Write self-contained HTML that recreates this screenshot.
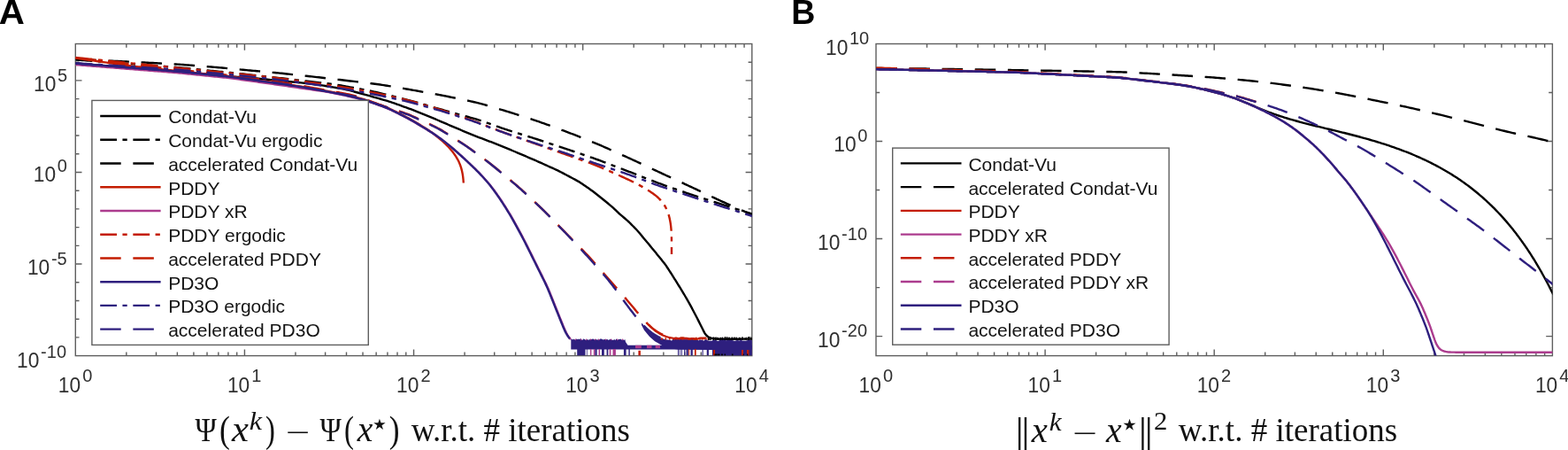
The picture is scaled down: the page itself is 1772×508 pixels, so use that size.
<!DOCTYPE html>
<html><head><meta charset="utf-8"><style>
html,body{margin:0;padding:0;background:#fff;overflow:hidden}
svg{display:block}
.tk{font-family:"Liberation Sans",Arial,sans-serif;font-size:24.5px;fill:#303030}
.sup{font-size:20px}
.lg{font-family:"Liberation Sans",Arial,sans-serif;font-size:21px;fill:#141414}
.pl{font-family:"Liberation Sans",Arial,sans-serif;font-size:38px;font-weight:bold;fill:#000}
.ttl{font-family:"Liberation Serif","Times New Roman",serif;font-size:35px;fill:#000}
</style></head><body>
<svg width="1772" height="508" viewBox="0 0 1772 508">
<rect width="1772" height="508" fill="#fff"/>
<clipPath id="cl"><rect x="85.3" y="49.5" width="764.5" height="352.1"/></clipPath>
<clipPath id="cr"><rect x="990.0" y="49.5" width="764.4000000000001" height="352.1"/></clipPath>
<path d="M142.83,401.6v-4.2M142.83,49.5v4.2M176.49,401.6v-4.2M176.49,49.5v4.2M200.37,401.6v-4.2M200.37,49.5v4.2M218.89,401.6v-4.2M218.89,49.5v4.2M234.02,401.6v-4.2M234.02,49.5v4.2M246.82,401.6v-4.2M246.82,49.5v4.2M257.9,401.6v-4.2M257.9,49.5v4.2M267.68,401.6v-4.2M267.68,49.5v4.2M276.43,401.6v-7.2M276.43,49.5v7.2M333.96,401.6v-4.2M333.96,49.5v4.2M367.61,401.6v-4.2M367.61,49.5v4.2M391.49,401.6v-4.2M391.49,49.5v4.2M410.02,401.6v-4.2M410.02,49.5v4.2M425.15,401.6v-4.2M425.15,49.5v4.2M437.94,401.6v-4.2M437.94,49.5v4.2M449.03,401.6v-4.2M449.03,49.5v4.2M458.8,401.6v-4.2M458.8,49.5v4.2M467.55,401.6v-7.2M467.55,49.5v7.2M525.08,401.6v-4.2M525.08,49.5v4.2M558.74,401.6v-4.2M558.74,49.5v4.2M582.62,401.6v-4.2M582.62,49.5v4.2M601.14,401.6v-4.2M601.14,49.5v4.2M616.27,401.6v-4.2M616.27,49.5v4.2M629.07,401.6v-4.2M629.07,49.5v4.2M640.15,401.6v-4.2M640.15,49.5v4.2M649.93,401.6v-4.2M649.93,49.5v4.2M658.67,401.6v-7.2M658.67,49.5v7.2M716.21,401.6v-4.2M716.21,49.5v4.2M749.86,401.6v-4.2M749.86,49.5v4.2M773.74,401.6v-4.2M773.74,49.5v4.2M792.27,401.6v-4.2M792.27,49.5v4.2M807.4,401.6v-4.2M807.4,49.5v4.2M820.19,401.6v-4.2M820.19,49.5v4.2M831.28,401.6v-4.2M831.28,49.5v4.2M841.05,401.6v-4.2M841.05,49.5v4.2M85.3,380.89h4.2M849.8,380.89h-4.2M85.3,360.18h4.2M849.8,360.18h-4.2M85.3,339.46h4.2M849.8,339.46h-4.2M85.3,318.75h4.2M849.8,318.75h-4.2M85.3,298.04h7.2M849.8,298.04h-7.2M85.3,277.33h4.2M849.8,277.33h-4.2M85.3,256.62h4.2M849.8,256.62h-4.2M85.3,235.91h4.2M849.8,235.91h-4.2M85.3,215.19h4.2M849.8,215.19h-4.2M85.3,194.48h7.2M849.8,194.48h-7.2M85.3,173.77h4.2M849.8,173.77h-4.2M85.3,153.06h4.2M849.8,153.06h-4.2M85.3,132.35h4.2M849.8,132.35h-4.2M85.3,111.64h4.2M849.8,111.64h-4.2M85.3,90.92h7.2M849.8,90.92h-7.2M85.3,70.21h4.2M849.8,70.21h-4.2" stroke="#5e5e5e" stroke-width="1.4" fill="none"/>
<rect x="85.3" y="49.5" width="764.5" height="352.1" fill="none" stroke="#5e5e5e" stroke-width="1.4"/>
<g clip-path="url(#cl)">
<path d="M85,71.5 L86.99,71.66 L88.99,71.81 L90.98,71.97 L92.98,72.12 L94.97,72.28 L96.96,72.44 L98.96,72.59 L100.95,72.75 L102.95,72.9 L104.94,73.06 L106.93,73.22 L108.93,73.37 L110.92,73.53 L112.91,73.68 L114.91,73.84 L116.9,74 L118.9,74.15 L120.89,74.31 L122.88,74.46 L124.88,74.62 L126.87,74.78 L128.87,74.93 L130.86,75.09 L132.85,75.25 L134.85,75.4 L136.84,75.56 L138.84,75.71 L140.83,75.87 L142.82,76.03 L144.82,76.18 L146.81,76.34 L148.8,76.49 L150.8,76.65 L152.79,76.81 L154.79,76.96 L156.78,77.12 L158.77,77.27 L160.77,77.43 L162.76,77.59 L164.76,77.74 L166.75,77.9 L168.74,78.05 L170.74,78.21 L172.73,78.37 L174.73,78.52 L176.72,78.68 L178.71,78.83 L180.71,78.99 L182.7,79.15 L184.7,79.3 L186.69,79.46 L188.68,79.61 L190.68,79.77 L192.67,79.93 L194.66,80.08 L196.66,80.24 L198.65,80.4 L200.64,80.58 L202.64,80.76 L204.63,80.95 L206.62,81.14 L208.61,81.33 L210.6,81.52 L212.59,81.72 L214.58,81.91 L216.57,82.1 L218.56,82.29 L220.55,82.49 L222.54,82.68 L224.53,82.87 L226.52,83.06 L228.52,83.25 L230.51,83.45 L232.5,83.64 L234.49,83.83 L236.48,84.02 L238.47,84.22 L240.46,84.41 L242.45,84.6 L244.44,84.79 L246.43,84.99 L248.42,85.18 L250.41,85.37 L252.4,85.56 L254.4,85.75 L256.39,85.94 L258.38,86.12 L260.37,86.29 L262.36,86.45 L264.36,86.6 L266.35,86.75 L268.35,86.89 L270.34,87.04 L272.34,87.19 L274.33,87.34 L276.33,87.49 L278.32,87.63 L280.32,87.78 L282.31,87.93 L284.3,88.08 L286.3,88.23 L288.29,88.38 L290.29,88.55 L292.28,88.73 L294.27,88.93 L296.26,89.13 L298.25,89.32 L300.24,89.52 L302.23,89.72 L304.22,89.92 L306.21,90.12 L308.2,90.32 L310.19,90.52 L312.18,90.72 L314.17,90.92 L316.16,91.12 L318.15,91.31 L320.14,91.51 L322.13,91.7 L324.12,91.88 L326.11,92.07 L328.1,92.26 L330.1,92.44 L332.09,92.63 L334.08,92.81 L336.07,93 L338.06,93.18 L340.05,93.37 L342.04,93.57 L344.03,93.79 L346.01,94.03 L348,94.28 L349.98,94.54 L351.96,94.8 L353.95,95.06 L355.93,95.32 L357.91,95.58 L359.9,95.84 L361.88,96.1 L363.86,96.37 L365.84,96.64 L367.82,96.94 L369.79,97.27 L371.76,97.61 L373.73,97.96 L375.7,98.31 L377.67,98.66 L379.64,99 L381.61,99.35 L383.58,99.7 L385.55,100.05 L387.52,100.41 L389.48,100.79 L391.43,101.21 L393.37,101.68 L395.31,102.18 L397.24,102.69 L399.17,103.21 L401.11,103.72 L403.04,104.24 L404.97,104.76 L406.9,105.27 L408.84,105.79 L410.77,106.31 L412.7,106.83 L414.63,107.35 L416.55,107.89 L418.48,108.44 L420.4,108.99 L422.32,109.54 L424.25,110.09 L426.17,110.64 L428.09,111.19 L430.01,111.74 L431.94,112.29 L433.86,112.84 L435.78,113.4 L437.7,113.96 L439.61,114.54 L441.51,115.16 L443.4,115.82 L445.29,116.48 L447.17,117.15 L449.06,117.82 L450.94,118.49 L452.83,119.17 L454.71,119.84 L456.59,120.51 L458.48,121.18 L460.36,121.85 L462.24,122.53 L464.11,123.23 L465.98,123.96 L467.84,124.69 L469.7,125.43 L471.56,126.17 L473.41,126.91 L475.27,127.65 L477.13,128.39 L478.99,129.13 L480.85,129.87 L482.7,130.61 L484.56,131.35 L486.41,132.11 L488.26,132.87 L490.1,133.65 L491.94,134.44 L493.78,135.23 L495.61,136.02 L497.45,136.81 L499.29,137.6 L501.13,138.39 L502.96,139.18 L504.8,139.97 L506.64,140.76 L508.47,141.55 L510.31,142.34 L512.15,143.12 L514,143.9 L515.84,144.67 L517.69,145.45 L519.53,146.22 L521.37,146.99 L523.22,147.77 L525.06,148.54 L526.91,149.31 L528.75,150.09 L530.6,150.86 L532.44,151.63 L534.3,152.38 L536.16,153.12 L538.02,153.84 L539.89,154.55 L541.76,155.26 L543.63,155.97 L545.5,156.68 L547.37,157.39 L549.24,158.11 L551.11,158.82 L552.97,159.53 L554.84,160.24 L556.71,160.95 L558.58,161.67 L560.44,162.4 L562.29,163.15 L564.15,163.91 L566,164.66 L567.85,165.43 L569.7,166.19 L571.55,166.95 L573.4,167.71 L575.25,168.47 L577.1,169.23 L578.95,169.99 L580.79,170.75 L582.64,171.51 L584.49,172.29 L586.33,173.07 L588.17,173.85 L590.01,174.64 L591.84,175.43 L593.68,176.22 L595.52,177 L597.36,177.79 L599.2,178.58 L601.04,179.36 L602.88,180.15 L604.71,180.94 L606.55,181.74 L608.38,182.54 L610.2,183.36 L612.03,184.18 L613.85,185 L615.67,185.83 L617.5,186.65 L619.32,187.47 L621.14,188.29 L622.97,189.12 L624.79,189.94 L626.61,190.77 L628.43,191.6 L630.24,192.45 L632.03,193.33 L633.81,194.25 L635.58,195.18 L637.35,196.11 L639.11,197.05 L640.88,197.99 L642.65,198.92 L644.42,199.86 L646.18,200.79 L647.95,201.73 L649.72,202.67 L651.48,203.61 L653.22,204.58 L654.94,205.61 L656.62,206.69 L658.27,207.81 L659.92,208.94 L661.57,210.08 L663.21,211.21 L664.86,212.35 L666.5,213.49 L668.13,214.65 L669.74,215.84 L671.33,217.05 L672.91,218.28 L674.49,219.51 L676.06,220.74 L677.64,221.97 L679.21,223.2 L680.77,224.45 L682.32,225.72 L683.87,226.98 L685.42,228.25 L686.96,229.52 L688.5,230.8 L690.04,232.08 L691.55,233.38 L693.03,234.73 L694.49,236.1 L695.93,237.48 L697.38,238.86 L698.83,240.24 L700.31,241.58 L701.81,242.9 L703.34,244.19 L704.87,245.48 L706.4,246.77 L707.92,248.06 L709.42,249.39 L710.88,250.75 L712.31,252.15 L713.72,253.56 L715.13,254.98 L716.53,256.41 L717.93,257.84 L719.3,259.29 L720.64,260.77 L721.94,262.29 L723.24,263.82 L724.52,265.35 L725.81,266.88 L727.09,268.41 L728.38,269.94 L729.66,271.48 L730.94,273.02 L732.22,274.55 L733.5,276.09 L734.77,277.63 L736.05,279.17 L737.33,280.71 L738.6,282.25 L739.87,283.8 L741.14,285.35 L742.4,286.9 L743.66,288.45 L744.91,290.01 L746.17,291.56 L747.43,293.11 L748.69,294.67 L749.94,296.23 L751.17,297.8 L752.36,299.41 L753.5,301.05 L754.6,302.72 L755.68,304.4 L756.77,306.08 L757.85,307.76 L758.93,309.44 L760.01,311.13 L761.09,312.81 L762.15,314.51 L763.21,316.2 L764.27,317.9 L765.32,319.6 L766.38,321.3 L767.43,323 L768.49,324.7 L769.54,326.4 L770.59,328.1 L771.64,329.8 L772.67,331.52 L773.68,333.24 L774.68,334.98 L775.67,336.71 L776.66,338.45 L777.66,340.18 L778.65,341.92 L779.63,343.66 L780.61,345.41 L781.56,347.17 L782.49,348.94 L783.42,350.71 L784.34,352.48 L785.27,354.25 L786.19,356.03 L787.12,357.8 L788.04,359.57 L788.96,361.35 L789.86,363.14 L790.76,364.92 L791.66,366.71 L792.55,368.5 L793.44,370.29 L794.33,372.08 L795.23,373.87 L796.16,375.63 L797.2,377.3 L798.44,378.79 L799.91,380.02 L801.6,380.94 L803.44,381.6 L805.37,382.05 L807.34,382.33 L809.32,382.51 L811.32,382.63 L813.31,382.72 L815.31,382.76 L817.31,382.78 L819.31,382.77 L821.31,382.76 L823.31,382.75 L825.31,382.74 L827.31,382.73 L829.31,382.72 L831.31,382.71 L833.31,382.7 L835.31,382.69 L837.31,382.68 L839.31,382.67 L841.31,382.66 L843.31,382.65 L845.31,382.64 L847.29,382.62 L849.22,382.61 L851.01,382.61 L851.83,382.6" fill="none" stroke="#000000" stroke-width="2.4" stroke-linejoin="round"/>
<path d="M85,67.4 L86.99,67.55 L88.99,67.7 L90.98,67.85 L92.98,68 L94.97,68.15 L96.97,68.29 L98.96,68.44 L100.96,68.59 L102.95,68.74 L104.94,68.89 L106.94,69.04 L108.93,69.19 L110.93,69.34 L112.92,69.49 L114.92,69.64 L116.91,69.79 L118.91,69.94 L120.9,70.08 L122.89,70.23 L124.89,70.38 L126.88,70.53 L128.88,70.68 L130.87,70.83 L132.87,70.98 L134.86,71.13 L136.86,71.28 L138.85,71.43 L140.84,71.58 L142.84,71.73 L144.83,71.87 L146.83,72.02 L148.82,72.17 L150.82,72.32 L152.81,72.47 L154.81,72.62 L156.8,72.77 L158.79,72.92 L160.79,73.07 L162.78,73.22 L164.78,73.37 L166.77,73.52 L168.77,73.66 L170.76,73.81 L172.75,73.96 L174.75,74.11 L176.74,74.26 L178.74,74.41 L180.73,74.56 L182.73,74.71 L184.72,74.86 L186.72,75.01 L188.71,75.16 L190.7,75.31 L192.7,75.46 L194.69,75.62 L196.69,75.78 L198.68,75.95 L200.67,76.12 L202.66,76.3 L204.65,76.48 L206.64,76.67 L208.64,76.87 L210.63,77.06 L212.62,77.26 L214.61,77.46 L216.6,77.66 L218.59,77.86 L220.58,78.06 L222.57,78.26 L224.56,78.46 L226.55,78.65 L228.54,78.85 L230.53,79.05 L232.52,79.25 L234.51,79.45 L236.5,79.65 L238.49,79.85 L240.48,80.05 L242.47,80.25 L244.46,80.45 L246.45,80.64 L248.44,80.84 L250.43,81.04 L252.42,81.24 L254.41,81.45 L256.4,81.65 L258.39,81.85 L260.38,82.06 L262.36,82.27 L264.35,82.48 L266.34,82.69 L268.33,82.9 L270.32,83.12 L272.31,83.33 L274.3,83.55 L276.28,83.76 L278.27,83.98 L280.26,84.19 L282.25,84.41 L284.24,84.63 L286.23,84.84 L288.21,85.06 L290.2,85.27 L292.19,85.49 L294.18,85.7 L296.17,85.92 L298.16,86.13 L300.14,86.35 L302.13,86.56 L304.12,86.78 L306.11,87 L308.1,87.21 L310.09,87.43 L312.07,87.64 L314.06,87.86 L316.05,88.08 L318.04,88.3 L320.03,88.52 L322.01,88.75 L324,88.97 L325.99,89.2 L327.97,89.43 L329.96,89.66 L331.95,89.89 L333.93,90.13 L335.92,90.36 L337.91,90.59 L339.89,90.82 L341.88,91.05 L343.87,91.28 L345.85,91.52 L347.84,91.75 L349.83,91.98 L351.81,92.21 L353.8,92.44 L355.79,92.68 L357.77,92.91 L359.76,93.14 L361.75,93.37 L363.73,93.6 L365.72,93.83 L367.7,94.07 L369.69,94.3 L371.68,94.54 L373.66,94.79 L375.64,95.04 L377.62,95.31 L379.6,95.6 L381.58,95.9 L383.55,96.21 L385.52,96.55 L387.5,96.89 L389.46,97.24 L391.43,97.59 L393.4,97.95 L395.37,98.31 L397.34,98.66 L399.3,99.02 L401.27,99.38 L403.24,99.74 L405.21,100.1 L407.17,100.46 L409.14,100.82 L411.11,101.19 L413.07,101.56 L415.03,101.93 L417,102.32 L418.96,102.72 L420.91,103.14 L422.86,103.56 L424.81,104.01 L426.76,104.46 L428.71,104.92 L430.65,105.39 L432.6,105.86 L434.54,106.33 L436.48,106.8 L438.43,107.27 L440.37,107.74 L442.31,108.21 L444.26,108.68 L446.2,109.15 L448.14,109.63 L450.09,110.1 L452.03,110.58 L453.97,111.06 L455.91,111.55 L457.85,112.04 L459.78,112.55 L461.71,113.06 L463.64,113.59 L465.57,114.12 L467.49,114.67 L469.42,115.21 L471.34,115.76 L473.26,116.31 L475.19,116.87 L477.11,117.42 L479.03,117.97 L480.95,118.52 L482.88,119.08 L484.8,119.63 L486.72,120.18 L488.64,120.73 L490.56,121.29 L492.49,121.84 L494.41,122.39 L496.33,122.93 L498.26,123.48 L500.18,124.02 L502.11,124.56 L504.03,125.1 L505.96,125.63 L507.89,126.17 L509.82,126.7 L511.75,127.23 L513.67,127.76 L515.6,128.29 L517.53,128.82 L519.46,129.35 L521.39,129.88 L523.32,130.41 L525.24,130.95 L527.17,131.48 L529.1,132.01 L531.03,132.54 L532.95,133.08 L534.88,133.62 L536.8,134.18 L538.72,134.74 L540.63,135.33 L542.53,135.93 L544.43,136.55 L546.32,137.19 L548.21,137.85 L550.1,138.51 L551.98,139.18 L553.87,139.86 L555.75,140.54 L557.63,141.21 L559.51,141.89 L561.39,142.56 L563.28,143.23 L565.16,143.9 L567.05,144.55 L568.95,145.2 L570.84,145.83 L572.74,146.46 L574.64,147.07 L576.55,147.68 L578.46,148.28 L580.37,148.88 L582.27,149.47 L584.18,150.07 L586.09,150.66 L588,151.26 L589.91,151.85 L591.82,152.45 L593.73,153.04 L595.64,153.64 L597.55,154.23 L599.46,154.83 L601.37,155.43 L603.27,156.04 L605.18,156.64 L607.08,157.26 L608.98,157.88 L610.88,158.5 L612.78,159.13 L614.68,159.75 L616.58,160.38 L618.48,161.01 L620.38,161.64 L622.27,162.28 L624.17,162.91 L626.07,163.54 L627.97,164.17 L629.87,164.8 L631.76,165.43 L633.66,166.06 L635.56,166.69 L637.46,167.33 L639.35,167.96 L641.25,168.6 L643.14,169.23 L645.04,169.87 L646.94,170.51 L648.83,171.15 L650.72,171.79 L652.62,172.43 L654.51,173.07 L656.41,173.71 L658.3,174.36 L660.2,175 L662.09,175.64 L663.98,176.28 L665.88,176.93 L667.77,177.58 L669.66,178.23 L671.55,178.89 L673.43,179.57 L675.31,180.25 L677.19,180.94 L679.06,181.63 L680.93,182.34 L682.8,183.05 L684.67,183.76 L686.54,184.47 L688.41,185.18 L690.28,185.9 L692.15,186.61 L694.01,187.32 L695.88,188.04 L697.75,188.75 L699.62,189.47 L701.49,190.18 L703.35,190.9 L705.22,191.61 L707.09,192.33 L708.96,193.05 L710.82,193.77 L712.69,194.49 L714.55,195.21 L716.41,195.94 L718.28,196.66 L720.14,197.39 L722,198.12 L723.87,198.85 L725.73,199.57 L727.59,200.3 L729.46,201.03 L731.32,201.76 L733.18,202.48 L735.05,203.21 L736.91,203.94 L738.77,204.66 L740.64,205.38 L742.51,206.09 L744.38,206.79 L746.26,207.48 L748.14,208.17 L750.02,208.84 L751.9,209.51 L753.79,210.18 L755.68,210.84 L757.57,211.5 L759.45,212.15 L761.34,212.81 L763.23,213.47 L765.12,214.12 L767.01,214.78 L768.9,215.44 L770.79,216.09 L772.68,216.75 L774.57,217.4 L776.46,218.04 L778.36,218.68 L780.25,219.32 L782.15,219.95 L784.05,220.57 L785.95,221.19 L787.86,221.8 L789.76,222.42 L791.67,223.03 L793.57,223.63 L795.48,224.24 L797.38,224.85 L799.29,225.46 L801.19,226.07 L803.1,226.68 L805,227.29 L806.91,227.9 L808.81,228.5 L810.72,229.11 L812.62,229.72 L814.53,230.33 L816.44,230.93 L818.34,231.54 L820.25,232.14 L822.15,232.75 L824.06,233.35 L825.97,233.96 L827.87,234.56 L829.78,235.16 L831.69,235.77 L833.59,236.37 L835.5,236.97 L837.4,237.58 L839.29,238.18 L841.17,238.77 L843.01,239.35 L844.8,239.92 L846.49,240.46 L848.07,240.95 L849.49,241.4 L850.73,241.8" fill="none" stroke="#000000" stroke-width="2.4" stroke-dasharray="18.8 6.45 5.25 6.65" stroke-linejoin="round" stroke-dashoffset="-0.6"/>
<path d="M85,66.9 L87,66.99 L89,67.08 L90.99,67.17 L92.99,67.26 L94.99,67.35 L96.99,67.44 L98.99,67.53 L100.98,67.62 L102.98,67.71 L104.98,67.8 L106.98,67.89 L108.98,67.98 L110.97,68.07 L112.97,68.16 L114.97,68.25 L116.97,68.34 L118.97,68.43 L120.96,68.52 L122.96,68.61 L124.96,68.7 L126.96,68.79 L128.96,68.88 L130.95,68.97 L132.95,69.06 L134.95,69.15 L136.95,69.24 L138.95,69.33 L140.94,69.42 L142.94,69.52 L144.94,69.62 L146.94,69.71 L148.93,69.81 L150.93,69.92 L152.93,70.02 L154.93,70.12 L156.92,70.23 L158.92,70.33 L160.92,70.44 L162.91,70.54 L164.91,70.65 L166.91,70.76 L168.91,70.86 L170.9,70.97 L172.9,71.07 L174.9,71.18 L176.89,71.28 L178.89,71.39 L180.89,71.49 L182.89,71.6 L184.88,71.7 L186.88,71.81 L188.88,71.92 L190.88,72.02 L192.87,72.13 L194.87,72.25 L196.87,72.36 L198.86,72.49 L200.86,72.62 L202.85,72.75 L204.85,72.89 L206.84,73.04 L208.84,73.19 L210.83,73.34 L212.82,73.5 L214.82,73.65 L216.81,73.81 L218.81,73.96 L220.8,74.12 L222.79,74.27 L224.79,74.43 L226.78,74.58 L228.78,74.74 L230.77,74.89 L232.76,75.05 L234.76,75.21 L236.75,75.36 L238.75,75.52 L240.74,75.68 L242.73,75.85 L244.72,76.02 L246.72,76.19 L248.71,76.37 L250.7,76.55 L252.69,76.73 L254.68,76.92 L256.67,77.11 L258.67,77.29 L260.66,77.48 L262.65,77.67 L264.64,77.86 L266.63,78.05 L268.62,78.23 L270.61,78.42 L272.6,78.61 L274.6,78.8 L276.59,78.98 L278.58,79.17 L280.57,79.35 L282.56,79.53 L284.55,79.71 L286.54,79.89 L288.54,80.07 L290.53,80.24 L292.52,80.42 L294.51,80.59 L296.51,80.77 L298.5,80.94 L300.49,81.12 L302.48,81.29 L304.48,81.47 L306.47,81.65 L308.46,81.83 L310.45,82.01 L312.44,82.2 L314.43,82.4 L316.42,82.6 L318.41,82.8 L320.4,83.01 L322.39,83.23 L324.38,83.44 L326.37,83.66 L328.35,83.87 L330.34,84.09 L332.33,84.31 L334.32,84.52 L336.31,84.74 L338.3,84.95 L340.28,85.16 L342.27,85.37 L344.26,85.58 L346.25,85.79 L348.24,86 L350.23,86.21 L352.22,86.42 L354.21,86.63 L356.19,86.85 L358.18,87.07 L360.17,87.3 L362.16,87.52 L364.14,87.75 L366.13,87.98 L368.12,88.21 L370.1,88.44 L372.09,88.67 L374.08,88.9 L376.06,89.13 L378.05,89.36 L380.04,89.59 L382.02,89.82 L384.01,90.06 L386,90.29 L387.98,90.52 L389.97,90.75 L391.96,90.98 L393.94,91.21 L395.93,91.44 L397.92,91.67 L399.9,91.91 L401.89,92.14 L403.88,92.37 L405.86,92.6 L407.85,92.83 L409.84,93.06 L411.82,93.3 L413.81,93.53 L415.8,93.76 L417.78,93.99 L419.77,94.23 L421.75,94.47 L423.74,94.72 L425.72,94.98 L427.7,95.24 L429.68,95.53 L431.66,95.82 L433.63,96.13 L435.61,96.45 L437.58,96.77 L439.55,97.1 L441.53,97.43 L443.5,97.77 L445.47,98.1 L447.44,98.44 L449.41,98.78 L451.38,99.11 L453.36,99.45 L455.33,99.78 L457.3,100.12 L459.27,100.46 L461.24,100.8 L463.21,101.14 L465.18,101.48 L467.15,101.83 L469.12,102.18 L471.09,102.53 L473.06,102.88 L475.03,103.24 L476.99,103.59 L478.96,103.95 L480.93,104.3 L482.9,104.66 L484.87,105.02 L486.83,105.37 L488.8,105.73 L490.77,106.09 L492.74,106.44 L494.71,106.8 L496.67,107.17 L498.64,107.53 L500.6,107.9 L502.57,108.28 L504.53,108.66 L506.49,109.05 L508.45,109.45 L510.41,109.85 L512.37,110.25 L514.33,110.66 L516.29,111.07 L518.24,111.47 L520.2,111.88 L522.16,112.29 L524.12,112.7 L526.08,113.1 L528.03,113.51 L529.99,113.93 L531.95,114.34 L533.9,114.77 L535.85,115.21 L537.8,115.66 L539.74,116.13 L541.67,116.63 L543.61,117.14 L545.53,117.67 L547.46,118.22 L549.38,118.77 L551.3,119.33 L553.22,119.89 L555.14,120.46 L557.06,121.02 L558.97,121.58 L560.89,122.15 L562.81,122.71 L564.73,123.28 L566.65,123.85 L568.56,124.42 L570.48,124.99 L572.39,125.57 L574.31,126.15 L576.22,126.74 L578.13,127.34 L580.03,127.94 L581.94,128.55 L583.84,129.16 L585.75,129.77 L587.65,130.39 L589.55,131 L591.46,131.61 L593.36,132.23 L595.26,132.84 L597.17,133.46 L599.07,134.07 L600.97,134.69 L602.87,135.31 L604.77,135.94 L606.67,136.57 L608.56,137.21 L610.46,137.86 L612.34,138.52 L614.23,139.19 L616.11,139.87 L617.99,140.55 L619.87,141.24 L621.74,141.93 L623.62,142.62 L625.5,143.31 L627.37,144 L629.25,144.7 L631.13,145.39 L633,146.08 L634.88,146.77 L636.75,147.47 L638.63,148.16 L640.5,148.87 L642.37,149.57 L644.24,150.28 L646.11,151 L647.97,151.73 L649.83,152.47 L651.69,153.21 L653.54,153.95 L655.4,154.69 L657.26,155.44 L659.11,156.19 L660.97,156.93 L662.82,157.68 L664.68,158.43 L666.53,159.18 L668.39,159.92 L670.24,160.67 L672.09,161.42 L673.95,162.18 L675.8,162.94 L677.64,163.71 L679.48,164.48 L681.32,165.27 L683.16,166.07 L684.99,166.87 L686.82,167.68 L688.64,168.5 L690.47,169.31 L692.29,170.13 L694.12,170.95 L695.94,171.77 L697.76,172.59 L699.59,173.42 L701.41,174.24 L703.24,175.06 L705.06,175.88 L706.88,176.7 L708.7,177.53 L710.53,178.35 L712.35,179.18 L714.17,180.01 L715.98,180.85 L717.8,181.69 L719.61,182.53 L721.43,183.37 L723.24,184.21 L725.05,185.06 L726.86,185.9 L728.68,186.75 L730.49,187.6 L732.3,188.44 L734.11,189.29 L735.93,190.13 L737.74,190.98 L739.55,191.82 L741.36,192.67 L743.18,193.51 L744.99,194.36 L746.8,195.2 L748.62,196.04 L750.43,196.88 L752.25,197.72 L754.06,198.56 L755.88,199.4 L757.7,200.24 L759.51,201.08 L761.33,201.92 L763.14,202.75 L764.96,203.59 L766.77,204.43 L768.59,205.27 L770.41,206.11 L772.22,206.95 L774.04,207.79 L775.85,208.63 L777.66,209.47 L779.48,210.31 L781.29,211.16 L783.1,212.01 L784.91,212.86 L786.72,213.71 L788.53,214.56 L790.34,215.42 L792.15,216.27 L793.96,217.12 L795.76,217.98 L797.57,218.83 L799.38,219.69 L801.19,220.54 L803,221.4 L804.81,222.25 L806.62,223.1 L808.43,223.95 L810.24,224.8 L812.05,225.64 L813.87,226.48 L815.69,227.31 L817.51,228.14 L819.33,228.96 L821.16,229.78 L822.98,230.59 L824.81,231.41 L826.64,232.22 L828.46,233.03 L830.29,233.84 L832.12,234.66 L833.95,235.47 L835.77,236.28 L837.6,237.09 L839.42,237.91 L841.24,238.71 L843.04,239.52 L844.83,240.31 L846.59,241.09 L848.31,241.86 L849.97,242.6 L851.58,243.31" fill="none" stroke="#000000" stroke-width="2.4" stroke-dasharray="23.5 13.65" stroke-linejoin="round" stroke-dashoffset="-0.3"/>
<path d="M85,65.5 L86.98,65.79 L88.96,66.08 L90.94,66.36 L92.92,66.65 L94.9,66.94 L96.88,67.23 L98.85,67.52 L100.83,67.8 L102.81,68.09 L104.79,68.38 L106.77,68.67 L108.75,68.95 L110.73,69.24 L112.71,69.53 L114.69,69.82 L116.67,70.11 L118.65,70.39 L120.63,70.68 L122.6,70.97 L124.58,71.26 L126.56,71.54 L128.54,71.83 L130.52,72.12 L132.5,72.4 L134.48,72.68 L136.46,72.95 L138.44,73.22 L140.43,73.47 L142.41,73.72 L144.4,73.96 L146.38,74.2 L148.37,74.43 L150.36,74.65 L152.34,74.88 L154.33,75.1 L156.32,75.32 L158.31,75.54 L160.3,75.77 L162.28,75.99 L164.27,76.21 L166.26,76.43 L168.25,76.65 L170.23,76.88 L172.22,77.1 L174.21,77.32 L176.2,77.54 L178.18,77.76 L180.17,77.99 L182.16,78.21 L184.15,78.43 L186.13,78.65 L188.12,78.87 L190.11,79.09 L192.1,79.31 L194.09,79.53 L196.07,79.75 L198.06,79.97 L200.05,80.18 L202.04,80.39 L204.03,80.59 L206.02,80.8 L208.01,81 L210,81.2 L211.99,81.4 L213.98,81.6 L215.97,81.8 L217.96,82 L219.95,82.19 L221.94,82.39 L223.93,82.59 L225.92,82.79 L227.91,82.99 L229.9,83.19 L231.89,83.39 L233.88,83.59 L235.87,83.79 L237.86,83.99 L239.85,84.18 L241.84,84.38 L243.83,84.58 L245.82,84.78 L247.81,84.98 L249.8,85.19 L251.79,85.39 L253.78,85.6 L255.77,85.82 L257.75,86.05 L259.74,86.28 L261.72,86.53 L263.71,86.78 L265.69,87.05 L267.67,87.32 L269.65,87.59 L271.63,87.86 L273.61,88.14 L275.59,88.41 L277.57,88.69 L279.56,88.96 L281.54,89.24 L283.52,89.52 L285.5,89.79 L287.48,90.07 L289.46,90.34 L291.44,90.62 L293.42,90.9 L295.4,91.17 L297.38,91.45 L299.36,91.72 L301.34,92 L303.33,92.28 L305.31,92.55 L307.29,92.83 L309.27,93.11 L311.25,93.38 L313.23,93.66 L315.21,93.94 L317.19,94.22 L319.17,94.5 L321.15,94.79 L323.13,95.07 L325.11,95.36 L327.09,95.65 L329.07,95.95 L331.04,96.24 L333.02,96.53 L335,96.83 L336.98,97.13 L338.95,97.43 L340.93,97.74 L342.9,98.06 L344.88,98.38 L346.85,98.71 L348.82,99.05 L350.79,99.39 L352.76,99.74 L354.73,100.08 L356.7,100.43 L358.67,100.79 L360.64,101.14 L362.61,101.5 L364.57,101.86 L366.54,102.22 L368.5,102.59 L370.47,102.97 L372.43,103.35 L374.39,103.73 L376.36,104.12 L378.32,104.51 L380.28,104.9 L382.24,105.29 L384.2,105.69 L386.16,106.1 L388.11,106.51 L390.07,106.94 L392.02,107.37 L393.97,107.82 L395.91,108.29 L397.86,108.76 L399.8,109.23 L401.74,109.72 L403.68,110.2 L405.62,110.7 L407.55,111.2 L409.48,111.72 L411.41,112.25 L413.32,112.81 L415.23,113.4 L417.13,114.01 L419.03,114.65 L420.91,115.31 L422.8,115.98 L424.68,116.66 L426.55,117.35 L428.43,118.04 L430.3,118.74 L432.17,119.44 L434.04,120.16 L435.9,120.9 L437.74,121.65 L439.58,122.44 L441.4,123.25 L443.21,124.1 L445.01,124.96 L446.8,125.85 L448.59,126.74 L450.37,127.65 L452.16,128.55 L453.94,129.46 L455.72,130.37 L457.5,131.28 L459.28,132.2 L461.04,133.13 L462.8,134.08 L464.55,135.04 L466.29,136.02 L468.03,137.02 L469.75,138.03 L471.47,139.06 L473.18,140.08 L474.9,141.12 L476.61,142.16 L478.31,143.2 L480.01,144.25 L481.7,145.32 L483.38,146.4 L485.04,147.5 L486.69,148.63 L488.31,149.79 L489.91,150.98 L491.5,152.2 L493.06,153.44 L494.61,154.7 L496.15,155.98 L497.67,157.27 L499.18,158.58 L500.67,159.91 L502.14,161.27 L503.59,162.64 L505.01,164.04 L506.4,165.47 L507.76,166.93 L509.08,168.42 L510.36,169.95 L511.61,171.51 L512.8,173.1 L513.95,174.72 L515.05,176.38 L516.1,178.08 L517.08,179.8 L518,181.56 L518.84,183.36 L519.62,185.19 L520.32,187.04 L520.96,188.92 L521.51,190.83 L522,192.75 L522.42,194.68 L522.78,196.61 L523.08,198.53 L523.32,200.42 L523.51,202.26 L523.65,204.03 L523.77,205.71 L523.81,206.51" fill="none" stroke="#C41D02" stroke-width="2.4" stroke-linejoin="round"/>
<path d="M85.5,73.1 L87.49,73.26 L89.49,73.42 L91.48,73.57 L93.48,73.73 L95.47,73.89 L97.46,74.05 L99.46,74.2 L101.45,74.36 L103.44,74.52 L105.44,74.68 L107.43,74.84 L109.43,74.99 L111.42,75.15 L113.41,75.31 L115.41,75.47 L117.4,75.62 L119.39,75.78 L121.39,75.94 L123.38,76.1 L125.38,76.26 L127.37,76.41 L129.36,76.57 L131.36,76.73 L133.35,76.89 L135.34,77.04 L137.34,77.2 L139.33,77.36 L141.33,77.52 L143.32,77.68 L145.31,77.83 L147.31,77.99 L149.3,78.15 L151.29,78.31 L153.29,78.46 L155.28,78.62 L157.28,78.78 L159.27,78.94 L161.26,79.1 L163.26,79.25 L165.25,79.41 L167.24,79.57 L169.24,79.73 L171.23,79.88 L173.23,80.04 L175.22,80.2 L177.21,80.36 L179.21,80.52 L181.2,80.67 L183.19,80.83 L185.19,80.99 L187.18,81.15 L189.18,81.31 L191.17,81.46 L193.16,81.63 L195.16,81.79 L197.15,81.96 L199.14,82.13 L201.13,82.31 L203.13,82.49 L205.12,82.68 L207.11,82.87 L209.1,83.06 L211.09,83.26 L213.08,83.46 L215.07,83.66 L217.06,83.86 L219.05,84.05 L221.04,84.25 L223.03,84.45 L225.02,84.65 L227.01,84.85 L229,85.05 L230.99,85.25 L232.98,85.45 L234.97,85.65 L236.96,85.85 L238.95,86.04 L240.94,86.24 L242.93,86.44 L244.92,86.64 L246.91,86.84 L248.9,87.04 L250.89,87.25 L252.88,87.45 L254.87,87.67 L256.85,87.89 L258.84,88.12 L260.83,88.35 L262.81,88.6 L264.79,88.86 L266.77,89.13 L268.76,89.4 L270.74,89.67 L272.72,89.94 L274.7,90.22 L276.68,90.49 L278.66,90.77 L280.64,91.05 L282.62,91.32 L284.6,91.6 L286.58,91.87 L288.57,92.15 L290.55,92.43 L292.53,92.7 L294.51,92.98 L296.49,93.25 L298.47,93.53 L300.45,93.81 L302.43,94.08 L304.41,94.36 L306.39,94.63 L308.37,94.91 L310.35,95.19 L312.34,95.46 L314.32,95.74 L316.3,96.02 L318.28,96.3 L320.26,96.59 L322.24,96.87 L324.22,97.16 L326.19,97.45 L328.17,97.74 L330.15,98.03 L332.13,98.32 L334.11,98.62 L336.09,98.91 L338.07,99.2 L340.04,99.49 L342.02,99.78 L344,100.06 L345.98,100.34 L347.96,100.62 L349.94,100.9 L351.92,101.18 L353.91,101.45 L355.89,101.73 L357.87,102.01 L359.85,102.29 L361.83,102.57 L363.8,102.87 L365.78,103.18 L367.75,103.5 L369.72,103.84 L371.69,104.19 L373.66,104.55 L375.62,104.93 L377.58,105.31 L379.55,105.7 L381.51,106.09 L383.47,106.48 L385.43,106.88 L387.39,107.29 L389.34,107.7 L391.29,108.13 L393.24,108.57 L395.19,109.02 L397.14,109.49 L399.08,109.96 L401.02,110.44 L402.96,110.92 L404.9,111.41 L406.84,111.91 L408.77,112.41 L410.7,112.93 L412.62,113.47 L414.54,114.04 L416.45,114.63 L418.35,115.25 L420.24,115.89 L422.12,116.55 L424.01,117.23 L425.89,117.91 L427.76,118.6 L429.64,119.29 L431.51,119.99 L433.38,120.7 L435.24,121.42 L437.1,122.16 L438.95,122.92 L440.78,123.71 L442.6,124.53 L444.41,125.38 L446.2,126.25 L447.99,127.14 L449.78,128.04 L451.56,128.94 L453.35,129.85 L455.13,130.76 L456.91,131.66 L458.69,132.58 L460.46,133.5 L462.23,134.43 L463.99,135.39 L465.73,136.35 L467.47,137.34 L469.2,138.34 L470.93,139.35 L472.65,140.37 L474.36,141.4 L476.08,142.43 L477.79,143.46 L479.5,144.5 L481.21,145.53 L482.92,146.58 L484.62,147.63 L486.31,148.7 L487.99,149.77 L489.67,150.86 L491.33,151.97 L492.99,153.09 L494.63,154.23 L496.27,155.38 L497.89,156.54 L499.5,157.73 L501.1,158.93 L502.69,160.14 L504.26,161.37 L505.82,162.62 L507.38,163.88 L508.92,165.14 L510.46,166.42 L511.99,167.72 L513.5,169.02 L515.01,170.33 L516.51,171.65 L518,172.98 L519.49,174.32 L520.98,175.66 L522.46,177 L523.94,178.34 L525.42,179.69 L526.89,181.05 L528.36,182.41 L529.82,183.77 L531.27,185.15 L532.72,186.53 L534.16,187.91 L535.6,189.3 L537.03,190.7 L538.45,192.11 L539.86,193.52 L541.26,194.94 L542.65,196.38 L544.03,197.83 L545.4,199.29 L546.75,200.76 L548.09,202.24 L549.42,203.73 L550.74,205.24 L552.04,206.75 L553.32,208.29 L554.58,209.84 L555.81,211.41 L557.03,212.99 L558.22,214.59 L559.41,216.2 L560.58,217.82 L561.75,219.45 L562.9,221.08 L564.05,222.72 L565.18,224.36 L566.3,226.02 L567.41,227.69 L568.5,229.36 L569.58,231.04 L570.66,232.73 L571.72,234.42 L572.79,236.11 L573.84,237.81 L574.89,239.51 L575.93,241.22 L576.96,242.93 L577.98,244.65 L578.98,246.38 L579.97,248.12 L580.95,249.86 L581.92,251.61 L582.89,253.36 L583.85,255.12 L584.81,256.87 L585.77,258.63 L586.73,260.38 L587.68,262.14 L588.63,263.9 L589.58,265.66 L590.53,267.42 L591.46,269.19 L592.39,270.96 L593.31,272.74 L594.22,274.52 L595.12,276.3 L596.02,278.09 L596.91,279.88 L597.8,281.67 L598.7,283.46 L599.59,285.25 L600.48,287.04 L601.37,288.83 L602.25,290.62 L603.14,292.41 L604.03,294.21 L604.92,296 L605.8,297.79 L606.69,299.58 L607.58,301.38 L608.47,303.17 L609.36,304.96 L610.25,306.75 L611.14,308.54 L612.03,310.33 L612.93,312.12 L613.82,313.91 L614.71,315.7 L615.59,317.49 L616.47,319.29 L617.33,321.09 L618.17,322.9 L619,324.72 L619.8,326.56 L620.58,328.39 L621.35,330.24 L622.11,332.09 L622.85,333.94 L623.6,335.8 L624.34,337.66 L625.08,339.51 L625.82,341.37 L626.57,343.23 L627.31,345.09 L628.05,346.94 L628.79,348.8 L629.54,350.66 L630.28,352.51 L631.03,354.37 L631.78,356.22 L632.53,358.08 L633.28,359.93 L634.03,361.79 L634.78,363.64 L635.53,365.49 L636.28,367.34 L637.04,369.19 L637.81,371.02 L638.61,372.84 L639.45,374.62 L640.33,376.35 L641.28,378.01 L642.27,379.6 L643.32,381.1 L644.4,382.51 L644.95,383.19" fill="none" stroke="#AC3C8E" stroke-width="2.4" stroke-linejoin="round"/>
<path d="M85,65 L86.99,65.2 L88.98,65.4 L90.97,65.6 L92.96,65.8 L94.95,66 L96.94,66.19 L98.93,66.39 L100.92,66.59 L102.91,66.79 L104.9,66.99 L106.89,67.19 L108.88,67.39 L110.87,67.59 L112.86,67.79 L114.85,67.99 L116.84,68.18 L118.83,68.38 L120.82,68.58 L122.81,68.78 L124.8,68.98 L126.79,69.18 L128.78,69.38 L130.77,69.58 L132.76,69.78 L134.75,69.98 L136.74,70.17 L138.73,70.37 L140.72,70.57 L142.71,70.77 L144.7,70.97 L146.69,71.17 L148.68,71.37 L150.67,71.57 L152.66,71.77 L154.65,71.97 L156.64,72.16 L158.63,72.36 L160.62,72.56 L162.61,72.76 L164.6,72.96 L166.59,73.16 L168.58,73.36 L170.57,73.56 L172.56,73.76 L174.55,73.96 L176.54,74.15 L178.53,74.35 L180.52,74.55 L182.51,74.75 L184.5,74.95 L186.49,75.15 L188.48,75.35 L190.47,75.55 L192.46,75.75 L194.45,75.95 L196.44,76.15 L198.43,76.35 L200.42,76.55 L202.41,76.75 L204.4,76.95 L206.39,77.16 L208.38,77.36 L210.37,77.56 L212.36,77.77 L214.35,77.97 L216.34,78.17 L218.33,78.38 L220.32,78.58 L222.31,78.78 L224.3,78.99 L226.29,79.19 L228.28,79.4 L230.27,79.6 L232.26,79.8 L234.25,80 L236.24,80.21 L238.23,80.41 L240.22,80.61 L242.21,80.8 L244.2,81 L246.19,81.19 L248.18,81.38 L250.17,81.57 L252.16,81.76 L254.15,81.95 L256.14,82.14 L258.13,82.33 L260.13,82.51 L262.12,82.7 L264.11,82.89 L266.1,83.08 L268.09,83.27 L270.08,83.46 L272.07,83.65 L274.06,83.84 L276.05,84.04 L278.04,84.24 L280.03,84.44 L282.02,84.65 L284.01,84.85 L286,85.07 L287.99,85.28 L289.98,85.5 L291.97,85.71 L293.95,85.93 L295.94,86.14 L297.93,86.36 L299.92,86.58 L301.91,86.79 L303.89,87.01 L305.88,87.23 L307.87,87.46 L309.86,87.68 L311.84,87.92 L313.83,88.16 L315.81,88.4 L317.8,88.65 L319.78,88.91 L321.76,89.17 L323.75,89.43 L325.73,89.69 L327.71,89.95 L329.7,90.21 L331.68,90.47 L333.66,90.74 L335.64,91 L337.63,91.26 L339.61,91.53 L341.59,91.79 L343.57,92.05 L345.56,92.32 L347.54,92.58 L349.52,92.85 L351.5,93.12 L353.48,93.4 L355.46,93.68 L357.44,93.96 L359.42,94.24 L361.4,94.53 L363.38,94.82 L365.36,95.1 L367.34,95.39 L369.32,95.68 L371.3,95.97 L373.28,96.26 L375.26,96.55 L377.23,96.84 L379.21,97.13 L381.19,97.42 L383.17,97.72 L385.15,98.02 L387.12,98.33 L389.1,98.64 L391.07,98.97 L393.04,99.3 L395.01,99.65 L396.98,100 L398.95,100.35 L400.92,100.71 L402.88,101.07 L404.85,101.43 L406.82,101.79 L408.78,102.15 L410.75,102.51 L412.72,102.88 L414.69,103.24 L416.65,103.6 L418.62,103.97 L420.58,104.34 L422.55,104.71 L424.51,105.1 L426.47,105.49 L428.43,105.89 L430.39,106.31 L432.34,106.73 L434.29,107.16 L436.25,107.59 L438.2,108.03 L440.15,108.46 L442.1,108.9 L444.05,109.34 L446,109.78 L447.95,110.22 L449.9,110.66 L451.86,111.11 L453.8,111.55 L455.75,112 L457.7,112.46 L459.64,112.93 L461.58,113.42 L463.52,113.92 L465.45,114.43 L467.38,114.96 L469.3,115.51 L471.22,116.06 L473.14,116.61 L475.07,117.17 L476.99,117.73 L478.91,118.29 L480.83,118.85 L482.75,119.41 L484.67,119.97 L486.59,120.53 L488.5,121.09 L490.42,121.65 L492.34,122.22 L494.26,122.8 L496.17,123.38 L498.08,123.97 L499.98,124.58 L501.89,125.19 L503.79,125.81 L505.69,126.44 L507.58,127.08 L509.48,127.71 L511.37,128.35 L513.27,128.99 L515.16,129.63 L517.06,130.27 L518.95,130.91 L520.85,131.55 L522.74,132.2 L524.63,132.84 L526.53,133.49 L528.42,134.14 L530.31,134.79 L532.19,135.46 L534.07,136.14 L535.95,136.82 L537.83,137.52 L539.7,138.23 L541.57,138.94 L543.43,139.65 L545.3,140.37 L547.17,141.09 L549.03,141.81 L550.9,142.54 L552.76,143.26 L554.63,143.98 L556.49,144.7 L558.36,145.42 L560.22,146.14 L562.09,146.86 L563.96,147.57 L565.83,148.28 L567.7,148.98 L569.58,149.67 L571.46,150.36 L573.34,151.04 L575.22,151.72 L577.1,152.39 L578.99,153.06 L580.87,153.73 L582.76,154.39 L584.64,155.06 L586.53,155.73 L588.42,156.39 L590.3,157.06 L592.19,157.72 L594.07,158.39 L595.96,159.05 L597.84,159.72 L599.73,160.39 L601.62,161.05 L603.5,161.72 L605.39,162.38 L607.28,163.05 L609.16,163.71 L611.05,164.38 L612.93,165.04 L614.82,165.7 L616.71,166.37 L618.59,167.03 L620.48,167.7 L622.37,168.36 L624.25,169.03 L626.14,169.69 L628.03,170.35 L629.91,171.02 L631.8,171.68 L633.69,172.35 L635.57,173.01 L637.46,173.68 L639.34,174.35 L641.23,175.01 L643.11,175.68 L645,176.35 L646.88,177.02 L648.77,177.69 L650.65,178.36 L652.54,179.03 L654.42,179.7 L656.31,180.37 L658.19,181.04 L660.07,181.71 L661.96,182.38 L663.84,183.05 L665.72,183.73 L667.6,184.42 L669.47,185.12 L671.34,185.83 L673.2,186.56 L675.06,187.31 L676.9,188.07 L678.75,188.84 L680.59,189.63 L682.42,190.42 L684.26,191.21 L686.09,192.01 L687.92,192.81 L689.76,193.61 L691.59,194.42 L693.42,195.22 L695.25,196.03 L697.08,196.84 L698.9,197.66 L700.72,198.48 L702.54,199.31 L704.36,200.14 L706.18,200.98 L707.99,201.82 L709.8,202.67 L711.61,203.53 L713.41,204.39 L715.21,205.26 L717,206.15 L718.78,207.06 L720.56,207.98 L722.32,208.92 L724.08,209.88 L725.82,210.85 L727.56,211.85 L729.28,212.86 L730.99,213.89 L732.69,214.94 L734.37,216.02 L736.03,217.13 L737.67,218.27 L739.27,219.44 L740.84,220.66 L742.37,221.93 L743.84,223.26 L745.26,224.64 L746.61,226.08 L747.9,227.59 L749.11,229.15 L750.25,230.76 L751.3,232.43 L752.27,234.15 L753.16,235.92 L753.96,237.73 L754.68,239.57 L755.33,241.45 L755.9,243.35 L756.41,245.27 L756.85,247.21 L757.25,249.16 L757.59,251.13 L757.89,253.1 L758.14,255.08 L758.35,257.06 L758.53,259.05 L758.66,261.04 L758.77,263.04 L758.85,265.03 L758.91,267.03 L758.95,269.03 L758.97,271.03 L758.99,273.03 L758.99,275.03 L759,277.02 L759,279.02 L759,281.01 L759,282.99 L759,284.97 L759,286.94" fill="none" stroke="#C41D02" stroke-width="2.4" stroke-dasharray="18.8 6.45 5.25 6.65" stroke-linejoin="round" stroke-dashoffset="-0.6"/>
<path d="M85,65.3 L86.99,65.52 L88.97,65.75 L90.96,65.97 L92.95,66.2 L94.94,66.42 L96.92,66.64 L98.91,66.87 L100.9,67.09 L102.89,67.32 L104.87,67.54 L106.86,67.76 L108.85,67.99 L110.84,68.21 L112.82,68.44 L114.81,68.66 L116.8,68.88 L118.79,69.11 L120.77,69.33 L122.76,69.56 L124.75,69.78 L126.74,70 L128.72,70.23 L130.71,70.45 L132.7,70.68 L134.69,70.9 L136.67,71.13 L138.66,71.36 L140.65,71.58 L142.63,71.81 L144.62,72.04 L146.61,72.27 L148.59,72.5 L150.58,72.73 L152.57,72.97 L154.55,73.2 L156.54,73.43 L158.53,73.66 L160.51,73.89 L162.5,74.12 L164.49,74.36 L166.47,74.59 L168.46,74.82 L170.45,75.05 L172.43,75.28 L174.42,75.52 L176.4,75.75 L178.39,75.98 L180.38,76.21 L182.36,76.44 L184.35,76.67 L186.34,76.91 L188.32,77.14 L190.31,77.37 L192.3,77.6 L194.28,77.83 L196.27,78.06 L198.26,78.29 L200.24,78.51 L202.23,78.74 L204.22,78.96 L206.21,79.18 L208.2,79.4 L210.18,79.62 L212.17,79.84 L214.16,80.06 L216.15,80.28 L218.13,80.5 L220.12,80.72 L222.11,80.94 L224.1,81.15 L226.09,81.37 L228.07,81.59 L230.06,81.81 L232.05,82.03 L234.04,82.25 L236.03,82.47 L238.01,82.69 L240,82.91 L241.99,83.13 L243.98,83.35 L245.97,83.56 L247.95,83.78 L249.94,84.01 L251.93,84.23 L253.92,84.45 L255.9,84.68 L257.89,84.92 L259.88,85.16 L261.86,85.4 L263.84,85.65 L265.83,85.9 L267.81,86.16 L269.8,86.42 L271.78,86.68 L273.76,86.94 L275.74,87.2 L277.73,87.46 L279.71,87.72 L281.69,87.98 L283.68,88.24 L285.66,88.5 L287.64,88.76 L289.63,89.02 L291.61,89.28 L293.59,89.54 L295.57,89.8 L297.56,90.06 L299.54,90.32 L301.52,90.58 L303.51,90.84 L305.49,91.1 L307.47,91.36 L309.45,91.62 L311.44,91.89 L313.42,92.16 L315.4,92.43 L317.38,92.72 L319.35,93.02 L321.33,93.33 L323.3,93.65 L325.27,93.99 L327.24,94.33 L329.21,94.68 L331.18,95.03 L333.15,95.38 L335.12,95.74 L337.09,96.1 L339.05,96.45 L341.02,96.81 L342.99,97.17 L344.96,97.52 L346.93,97.88 L348.89,98.24 L350.86,98.59 L352.83,98.95 L354.8,99.31 L356.77,99.66 L358.73,100.02 L360.7,100.38 L362.67,100.73 L364.64,101.09 L366.61,101.45 L368.57,101.8 L370.54,102.16 L372.51,102.52 L374.48,102.87 L376.45,103.23 L378.41,103.59 L380.38,103.94 L382.35,104.3 L384.32,104.66 L386.28,105.02 L388.25,105.38 L390.22,105.75 L392.18,106.13 L394.13,106.53 L396.08,106.95 L398.02,107.41 L399.95,107.91 L401.87,108.46 L403.77,109.05 L405.67,109.67 L407.56,110.32 L409.44,110.98 L411.32,111.66 L413.2,112.34 L415.08,113.03 L416.96,113.72 L418.84,114.4 L420.71,115.09 L422.59,115.78 L424.47,116.46 L426.36,117.13 L428.24,117.8 L430.13,118.46 L432.02,119.11 L433.91,119.76 L435.81,120.39 L437.7,121.03 L439.6,121.66 L441.5,122.28 L443.4,122.91 L445.3,123.54 L447.2,124.16 L449.1,124.79 L451,125.42 L452.89,126.05 L454.79,126.7 L456.67,127.35 L458.55,128.03 L460.42,128.73 L462.28,129.46 L464.13,130.22 L465.96,131 L467.79,131.81 L469.61,132.64 L471.43,133.47 L473.24,134.31 L475.06,135.16 L476.87,136 L478.68,136.85 L480.49,137.7 L482.3,138.55 L484.11,139.4 L485.92,140.25 L487.73,141.11 L489.53,141.97 L491.32,142.85 L493.1,143.76 L494.87,144.69 L496.62,145.64 L498.36,146.63 L500.08,147.64 L501.78,148.68 L503.48,149.73 L505.18,150.79 L506.87,151.86 L508.55,152.93 L510.24,154.01 L511.93,155.08 L513.62,156.16 L515.3,157.23 L516.99,158.31 L518.67,159.39 L520.36,160.47 L522.03,161.55 L523.71,162.65 L525.37,163.75 L527.03,164.87 L528.67,166.01 L530.31,167.16 L531.94,168.32 L533.56,169.49 L535.18,170.66 L536.79,171.84 L538.4,173.03 L540.01,174.21 L541.62,175.4 L543.24,176.58 L544.84,177.77 L546.45,178.96 L548.06,180.15 L549.66,181.35 L551.26,182.55 L552.84,183.77 L554.42,184.99 L555.99,186.23 L557.55,187.48 L559.11,188.74 L560.66,190.01 L562.2,191.28 L563.74,192.55 L565.28,193.82 L566.82,195.1 L568.36,196.38 L569.9,197.65 L571.44,198.93 L572.98,200.21 L574.52,201.48 L576.06,202.76 L577.6,204.04 L579.13,205.32 L580.67,206.6 L582.2,207.89 L583.72,209.19 L585.24,210.49 L586.74,211.81 L588.24,213.13 L589.72,214.47 L591.2,215.82 L592.67,217.17 L594.14,218.52 L595.61,219.88 L597.08,221.25 L598.54,222.61 L600.01,223.97 L601.47,225.33 L602.93,226.69 L604.4,228.06 L605.86,229.42 L607.32,230.79 L608.78,232.15 L610.23,233.53 L611.68,234.91 L613.12,236.3 L614.55,237.69 L615.97,239.1 L617.39,240.51 L618.79,241.93 L620.2,243.36 L621.6,244.78 L623,246.21 L624.4,247.64 L625.8,249.07 L627.19,250.5 L628.59,251.93 L629.99,253.36 L631.39,254.79 L632.79,256.22 L634.18,257.65 L635.58,259.08 L636.98,260.51 L638.38,261.94 L639.78,263.37 L641.18,264.8 L642.58,266.22 L643.99,267.65 L645.39,269.08 L646.79,270.5 L648.19,271.93 L649.6,273.35 L651,274.78 L652.4,276.2 L653.81,277.63 L655.21,279.05 L656.61,280.48 L658.01,281.91 L659.41,283.34 L660.8,284.77 L662.19,286.22 L663.56,287.66 L664.93,289.12 L666.28,290.59 L667.63,292.07 L668.96,293.56 L670.29,295.06 L671.62,296.55 L672.94,298.05 L674.26,299.56 L675.58,301.06 L676.9,302.56 L678.22,304.07 L679.54,305.57 L680.85,307.07 L682.17,308.58 L683.49,310.08 L684.81,311.58 L686.13,313.09 L687.45,314.59 L688.77,316.09 L690.09,317.59 L691.41,319.09 L692.74,320.59 L694.06,322.09 L695.38,323.59 L696.71,325.09 L698.03,326.59 L699.35,328.09 L700.67,329.59 L701.99,331.1 L703.31,332.6 L704.62,334.11 L705.93,335.63 L707.23,337.14 L708.53,338.67 L709.82,340.19 L711.11,341.72 L712.4,343.25 L713.68,344.78 L714.97,346.31 L716.26,347.84 L717.55,349.37 L718.84,350.9 L720.13,352.43 L721.42,353.96 L722.71,355.48 L724.02,357 L725.32,358.51 L726.64,360.01 L727.98,361.5 L729.33,362.97 L730.71,364.41 L732.11,365.83 L733.55,367.21 L735.02,368.55 L736.53,369.84 L738.07,371.09 L739.66,372.29 L741.29,373.43 L742.95,374.51 L744.65,375.54 L746.39,376.5 L748.16,377.39 L749.96,378.21 L751.79,378.96 L753.66,379.62 L755.55,380.19 L757.46,380.69 L759.4,381.11 L761.36,381.45 L763.32,381.73 L765.3,381.96 L767.29,382.13 L769.28,382.26 L771.27,382.36 L773.27,382.43 L775.26,382.49 L777.26,382.54 L779.26,382.58 L781.26,382.62 L783.26,382.66 L785.26,382.71 L787.25,382.74 L789.23,382.78 L791.19,382.82 L793.13,382.86 L795.03,382.9 L796.87,382.94 L798.64,382.97 L799.51,382.99" fill="none" stroke="#C41D02" stroke-width="2.4" stroke-dasharray="23.5 13.65" stroke-linejoin="round" stroke-dashoffset="-0.3"/>
</g>
<g clip-path="url(#cl)">
<path d="M645.3,394.6 L645.3,383.0 L646.3,382.7 L647.3,383.6 L648.3,382.5 L649.3,383.4 L650.3,383.1 L651.3,382.5 L652.3,383.3 L653.3,382.5 L654.3,383.2 L655.3,382.5 L656.3,382.6 L657.3,383.2 L658.3,383.9 L659.3,382.6 L660.3,382.8 L661.3,383.5 L662.3,384.1 L663.3,383.4 L664.3,383.1 L665.3,384.2 L666.3,382.5 L667.3,383.9 L668.3,382.9 L669.3,382.7 L670.3,382.6 L671.3,383.0 L672.3,383.9 L673.3,382.7 L674.3,383.4 L675.3,383.6 L676.3,383.1 L677.3,383.4 L678.3,382.5 L679.3,382.5 L680.3,382.8 L681.3,383.6 L682.3,383.2 L683.3,383.0 L684.3,383.5 L685.3,383.2 L686.3,382.9 L687.3,383.8 L688.3,383.7 L689.3,382.8 L690.3,383.4 L691.3,383.3 L692.3,384.0 L693.3,383.7 L694.3,382.9 L695.3,384.2 L696.3,382.6 L697.3,383.2 L698.3,383.8 L699.3,382.7 L700.3,383.3 L701.3,382.5 L702.3,383.6 L703.3,383.8 L704.3,383.4 L705.3,384.0 L706.3,383.0 L707,386 L709.5,389.8 L852,389.8 L852,394.6 Z" fill="#2E1F7E"/>
<rect x="650.00" y="382.60" width="1.20" height="1.60" fill="#AC3C8E"/>
<rect x="656.00" y="382.60" width="1.20" height="1.60" fill="#AC3C8E"/>
<rect x="662.00" y="382.60" width="1.20" height="1.60" fill="#AC3C8E"/>
<rect x="667.00" y="382.60" width="1.20" height="1.60" fill="#AC3C8E"/>
<rect x="672.00" y="382.60" width="1.20" height="1.60" fill="#AC3C8E"/>
<rect x="676.00" y="382.60" width="1.20" height="1.60" fill="#AC3C8E"/>
<rect x="684.00" y="382.60" width="1.20" height="1.60" fill="#AC3C8E"/>
<rect x="690.00" y="382.60" width="1.20" height="1.60" fill="#AC3C8E"/>
<rect x="697.00" y="382.60" width="1.20" height="1.60" fill="#AC3C8E"/>
<rect x="703.00" y="382.60" width="1.20" height="1.60" fill="#AC3C8E"/>
<rect x="652.20" y="394.00" width="9.30" height="7.40" fill="#2E1F7E"/>
<rect x="662.90" y="394.00" width="0.70" height="7.40" fill="#2E1F7E"/>
<rect x="667.00" y="394.00" width="1.40" height="7.40" fill="#AC3C8E"/>
<rect x="670.80" y="394.00" width="1.70" height="7.40" fill="#AC3C8E"/>
<rect x="672.50" y="394.00" width="2.10" height="7.40" fill="#2E1F7E"/>
<rect x="676.60" y="394.00" width="1.40" height="7.40" fill="#AC3C8E"/>
<rect x="680.00" y="394.00" width="2.80" height="7.40" fill="#2E1F7E"/>
<rect x="685.60" y="394.00" width="1.70" height="7.40" fill="#2E1F7E"/>
<rect x="688.70" y="394.00" width="1.70" height="7.40" fill="#AC3C8E"/>
<rect x="692.50" y="394.00" width="3.40" height="7.40" fill="#AC3C8E"/>
<rect x="704.90" y="394.00" width="2.70" height="7.40" fill="#2E1F7E"/>
<rect x="710.40" y="394.00" width="1.40" height="7.40" fill="#2E1F7E"/>
<rect x="718.00" y="389.80" width="6.80" height="3.40" fill="#AC3C8E"/>
<rect x="731.00" y="389.80" width="5.50" height="3.40" fill="#AC3C8E"/>
<rect x="740.70" y="389.80" width="5.30" height="3.40" fill="#AC3C8E"/>
<rect x="721.40" y="395.80" width="2.50" height="5.60" fill="#C41D02"/>
<path d="M85,71.6 L86.99,71.76 L88.99,71.92 L90.98,72.07 L92.98,72.23 L94.97,72.39 L96.96,72.55 L98.96,72.7 L100.95,72.86 L102.94,73.02 L104.94,73.18 L106.93,73.34 L108.93,73.49 L110.92,73.65 L112.91,73.81 L114.91,73.97 L116.9,74.12 L118.89,74.28 L120.89,74.44 L122.88,74.6 L124.88,74.76 L126.87,74.91 L128.86,75.07 L130.86,75.23 L132.85,75.39 L134.84,75.54 L136.84,75.7 L138.83,75.86 L140.83,76.02 L142.82,76.18 L144.81,76.33 L146.81,76.49 L148.8,76.65 L150.79,76.81 L152.79,76.96 L154.78,77.12 L156.78,77.28 L158.77,77.44 L160.76,77.6 L162.76,77.75 L164.75,77.91 L166.74,78.07 L168.74,78.23 L170.73,78.38 L172.73,78.54 L174.72,78.7 L176.71,78.86 L178.71,79.02 L180.7,79.17 L182.69,79.33 L184.69,79.49 L186.68,79.65 L188.68,79.81 L190.67,79.96 L192.66,80.13 L194.66,80.29 L196.65,80.46 L198.64,80.63 L200.63,80.81 L202.63,80.99 L204.62,81.18 L206.61,81.37 L208.6,81.56 L210.59,81.76 L212.58,81.96 L214.57,82.16 L216.56,82.36 L218.55,82.55 L220.54,82.75 L222.53,82.95 L224.52,83.15 L226.51,83.35 L228.5,83.55 L230.49,83.75 L232.48,83.95 L234.47,84.15 L236.46,84.35 L238.45,84.54 L240.44,84.74 L242.43,84.94 L244.42,85.14 L246.41,85.34 L248.4,85.54 L250.39,85.75 L252.38,85.95 L254.37,86.17 L256.35,86.39 L258.34,86.62 L260.33,86.85 L262.31,87.1 L264.29,87.36 L266.27,87.63 L268.26,87.9 L270.24,88.17 L272.22,88.44 L274.2,88.72 L276.18,88.99 L278.16,89.27 L280.14,89.55 L282.12,89.82 L284.1,90.1 L286.08,90.37 L288.07,90.65 L290.05,90.93 L292.03,91.2 L294.01,91.48 L295.99,91.75 L297.97,92.03 L299.95,92.31 L301.93,92.58 L303.91,92.86 L305.89,93.13 L307.87,93.41 L309.85,93.69 L311.84,93.96 L313.82,94.24 L315.8,94.52 L317.78,94.8 L319.76,95.09 L321.74,95.37 L323.72,95.66 L325.69,95.95 L327.67,96.24 L329.65,96.53 L331.63,96.83 L333.61,97.12 L335.59,97.42 L337.56,97.72 L339.54,98.02 L341.51,98.33 L343.49,98.65 L345.46,98.98 L347.43,99.31 L349.41,99.65 L351.38,99.99 L353.34,100.34 L355.31,100.69 L357.28,101.04 L359.25,101.39 L361.22,101.75 L363.19,102.1 L365.15,102.47 L367.12,102.83 L369.09,103.2 L371.05,103.58 L373.01,103.96 L374.98,104.35 L376.94,104.73 L378.9,105.12 L380.86,105.51 L382.82,105.91 L384.78,106.31 L386.74,106.72 L388.69,107.13 L390.65,107.56 L392.6,108.01 L394.54,108.46 L396.49,108.92 L398.43,109.4 L400.37,109.88 L402.31,110.36 L404.25,110.85 L406.19,111.35 L408.12,111.85 L410.05,112.37 L411.97,112.92 L413.89,113.48 L415.8,114.08 L417.69,114.7 L419.59,115.34 L421.47,116.01 L423.35,116.68 L425.23,117.36 L427.11,118.05 L428.98,118.75 L430.86,119.45 L432.73,120.16 L434.59,120.88 L436.44,121.62 L438.29,122.38 L440.12,123.18 L441.94,124 L443.75,124.85 L445.54,125.72 L447.33,126.61 L449.12,127.51 L450.9,128.41 L452.69,129.32 L454.47,130.23 L456.25,131.13 L458.03,132.05 L459.8,132.97 L461.57,133.91 L463.32,134.86 L465.07,135.83 L466.81,136.82 L468.54,137.82 L470.26,138.83 L471.98,139.85 L473.7,140.88 L475.41,141.91 L477.12,142.94 L478.84,143.98 L480.54,145.02 L482.25,146.06 L483.95,147.11 L485.64,148.18 L487.32,149.26 L489,150.35 L490.66,151.46 L492.32,152.58 L493.96,153.72 L495.59,154.87 L497.22,156.04 L498.83,157.22 L500.42,158.42 L502.01,159.64 L503.58,160.87 L505.15,162.12 L506.7,163.37 L508.24,164.64 L509.78,165.92 L511.3,167.22 L512.82,168.52 L514.33,169.83 L515.83,171.16 L517.32,172.49 L518.81,173.82 L520.3,175.16 L521.78,176.5 L523.26,177.85 L524.73,179.2 L526.2,180.55 L527.67,181.91 L529.13,183.28 L530.58,184.65 L532.03,186.03 L533.47,187.42 L534.91,188.81 L536.34,190.21 L537.76,191.62 L539.17,193.03 L540.57,194.46 L541.96,195.89 L543.34,197.34 L544.7,198.8 L546.05,200.28 L547.4,201.76 L548.72,203.25 L550.04,204.76 L551.34,206.27 L552.62,207.81 L553.87,209.36 L555.11,210.93 L556.32,212.52 L557.52,214.12 L558.7,215.73 L559.87,217.35 L561.04,218.97 L562.19,220.61 L563.34,222.25 L564.47,223.89 L565.59,225.55 L566.69,227.22 L567.78,228.89 L568.87,230.57 L569.94,232.26 L571.01,233.95 L572.07,235.64 L573.12,237.34 L574.17,239.04 L575.21,240.75 L576.24,242.47 L577.26,244.19 L578.26,245.92 L579.25,247.66 L580.23,249.4 L581.2,251.15 L582.16,252.9 L583.12,254.65 L584.08,256.41 L585.04,258.16 L586,259.92 L586.96,261.68 L587.91,263.43 L588.86,265.19 L589.8,266.96 L590.73,268.73 L591.66,270.5 L592.58,272.28 L593.49,274.06 L594.39,275.84 L595.29,277.63 L596.18,279.42 L597.07,281.21 L597.96,283 L598.86,284.79 L599.75,286.58 L600.63,288.37 L601.52,290.16 L602.41,291.95 L603.3,293.75 L604.19,295.54 L605.07,297.33 L605.96,299.12 L606.85,300.92 L607.74,302.71 L608.62,304.5 L609.52,306.29 L610.41,308.08 L611.3,309.87 L612.2,311.66 L613.09,313.45 L613.98,315.24 L614.86,317.03 L615.74,318.83 L616.6,320.63 L617.44,322.45 L618.26,324.27 L619.06,326.1 L619.84,327.94 L620.61,329.78 L621.36,331.63 L622.11,333.49 L622.86,335.34 L623.6,337.2 L624.34,339.06 L625.08,340.92 L625.82,342.77 L626.56,344.63 L627.31,346.49 L628.05,348.35 L628.8,350.2 L629.54,352.06 L630.29,353.91 L631.04,355.77 L631.79,357.62 L632.54,359.48 L633.29,361.33 L634.04,363.18 L634.79,365.04 L635.54,366.89 L636.3,368.73 L637.07,370.56 L637.87,372.37 L638.7,374.14 L639.58,375.85 L640.5,377.49 L641.47,379.02 L642.45,380.45 L643.44,381.76 L643.94,382.37" fill="none" stroke="#2E1F7E" stroke-width="2.4" stroke-linejoin="round"/>
<path d="M85,71.2 L87,71.33 L88.99,71.45 L90.99,71.58 L92.98,71.71 L94.98,71.83 L96.98,71.96 L98.97,72.09 L100.97,72.21 L102.96,72.34 L104.96,72.47 L106.96,72.59 L108.95,72.72 L110.95,72.85 L112.94,72.97 L114.94,73.1 L116.94,73.23 L118.93,73.35 L120.93,73.48 L122.92,73.61 L124.92,73.73 L126.92,73.86 L128.91,73.99 L130.91,74.11 L132.9,74.24 L134.9,74.37 L136.9,74.49 L138.89,74.62 L140.89,74.75 L142.88,74.87 L144.88,75 L146.88,75.13 L148.87,75.25 L150.87,75.38 L152.86,75.51 L154.86,75.63 L156.86,75.76 L158.85,75.89 L160.85,76.01 L162.84,76.14 L164.84,76.27 L166.84,76.39 L168.83,76.52 L170.83,76.65 L172.82,76.77 L174.82,76.9 L176.82,77.03 L178.81,77.15 L180.81,77.28 L182.8,77.41 L184.8,77.54 L186.8,77.66 L188.79,77.79 L190.79,77.92 L192.78,78.05 L194.78,78.19 L196.77,78.33 L198.77,78.48 L200.76,78.64 L202.75,78.8 L204.75,78.97 L206.74,79.15 L208.73,79.34 L210.72,79.52 L212.71,79.71 L214.7,79.9 L216.69,80.09 L218.68,80.28 L220.67,80.47 L222.67,80.66 L224.66,80.85 L226.65,81.04 L228.64,81.23 L230.63,81.42 L232.62,81.61 L234.61,81.8 L236.6,81.99 L238.59,82.17 L240.58,82.36 L242.58,82.55 L244.57,82.74 L246.56,82.93 L248.55,83.12 L250.54,83.31 L252.53,83.5 L254.52,83.68 L256.51,83.87 L258.5,84.06 L260.5,84.25 L262.49,84.44 L264.48,84.63 L266.47,84.82 L268.46,85 L270.45,85.19 L272.44,85.39 L274.43,85.58 L276.42,85.78 L278.41,85.98 L280.4,86.19 L282.39,86.4 L284.38,86.61 L286.37,86.83 L288.35,87.05 L290.34,87.27 L292.33,87.49 L294.32,87.71 L296.31,87.93 L298.29,88.16 L300.28,88.38 L302.27,88.6 L304.26,88.83 L306.24,89.05 L308.23,89.28 L310.22,89.51 L312.2,89.75 L314.19,89.99 L316.17,90.23 L318.16,90.48 L320.14,90.73 L322.12,90.99 L324.11,91.25 L326.09,91.5 L328.07,91.76 L330.06,92.02 L332.04,92.28 L334.02,92.53 L336.01,92.79 L337.99,93.05 L339.97,93.31 L341.96,93.57 L343.94,93.83 L345.92,94.09 L347.91,94.35 L349.89,94.62 L351.87,94.89 L353.85,95.16 L355.83,95.44 L357.81,95.73 L359.79,96.02 L361.77,96.31 L363.75,96.6 L365.73,96.89 L367.7,97.19 L369.68,97.48 L371.66,97.77 L373.64,98.07 L375.62,98.36 L377.59,98.66 L379.57,98.95 L381.55,99.25 L383.53,99.55 L385.5,99.86 L387.48,100.17 L389.45,100.49 L391.42,100.82 L393.4,101.16 L395.37,101.51 L397.33,101.86 L399.3,102.21 L401.27,102.57 L403.24,102.93 L405.2,103.29 L407.17,103.66 L409.14,104.02 L411.1,104.38 L413.07,104.74 L415.04,105.1 L417.01,105.47 L418.97,105.83 L420.94,106.2 L422.9,106.57 L424.87,106.96 L426.83,107.34 L428.79,107.74 L430.75,108.14 L432.7,108.55 L434.66,108.97 L436.61,109.39 L438.57,109.81 L440.52,110.23 L442.48,110.66 L444.43,111.08 L446.39,111.51 L448.34,111.93 L450.3,112.36 L452.25,112.78 L454.2,113.21 L456.15,113.65 L458.1,114.09 L460.05,114.55 L461.99,115.02 L463.93,115.51 L465.87,116.01 L467.8,116.52 L469.73,117.05 L471.66,117.58 L473.58,118.11 L475.51,118.65 L477.44,119.19 L479.36,119.73 L481.29,120.27 L483.21,120.81 L485.14,121.35 L487.06,121.89 L488.99,122.44 L490.91,122.98 L492.84,123.53 L494.76,124.09 L496.68,124.65 L498.59,125.22 L500.51,125.8 L502.42,126.39 L504.33,126.99 L506.23,127.59 L508.14,128.2 L510.04,128.81 L511.95,129.42 L513.85,130.03 L515.76,130.64 L517.66,131.25 L519.56,131.86 L521.47,132.48 L523.37,133.09 L525.27,133.71 L527.18,134.33 L529.07,134.95 L530.97,135.59 L532.86,136.23 L534.75,136.89 L536.64,137.55 L538.52,138.23 L540.4,138.92 L542.27,139.61 L544.15,140.31 L546.02,141.01 L547.89,141.71 L549.76,142.42 L551.64,143.12 L553.51,143.82 L555.38,144.53 L557.25,145.23 L559.13,145.93 L561,146.63 L562.88,147.32 L564.75,148.02 L566.63,148.7 L568.51,149.38 L570.4,150.05 L572.28,150.71 L574.17,151.37 L576.06,152.02 L577.96,152.66 L579.85,153.31 L581.74,153.95 L583.64,154.6 L585.53,155.24 L587.42,155.88 L589.32,156.52 L591.21,157.16 L593.11,157.81 L595,158.45 L596.9,159.09 L598.79,159.73 L600.69,160.36 L602.58,161 L604.48,161.63 L606.38,162.26 L608.28,162.89 L610.18,163.52 L612.08,164.14 L613.98,164.76 L615.88,165.38 L617.78,166 L619.68,166.63 L621.58,167.25 L623.48,167.87 L625.38,168.49 L627.29,169.11 L629.19,169.73 L631.09,170.36 L632.99,170.98 L634.89,171.6 L636.79,172.23 L638.68,172.86 L640.58,173.49 L642.48,174.13 L644.37,174.77 L646.27,175.41 L648.16,176.05 L650.06,176.69 L651.95,177.34 L653.84,177.98 L655.74,178.62 L657.63,179.27 L659.52,179.91 L661.42,180.56 L663.31,181.2 L665.2,181.84 L667.1,182.49 L668.99,183.13 L670.89,183.77 L672.78,184.41 L674.68,185.05 L676.57,185.68 L678.47,186.32 L680.37,186.95 L682.26,187.59 L684.16,188.22 L686.06,188.85 L687.96,189.49 L689.85,190.12 L691.75,190.75 L693.65,191.38 L695.54,192.02 L697.44,192.65 L699.34,193.28 L701.23,193.92 L703.13,194.56 L705.02,195.2 L706.91,195.85 L708.8,196.51 L710.69,197.18 L712.57,197.85 L714.45,198.54 L716.33,199.23 L718.2,199.92 L720.08,200.62 L721.95,201.31 L723.82,202.01 L725.7,202.71 L727.57,203.41 L729.44,204.11 L731.32,204.81 L733.19,205.51 L735.07,206.21 L736.94,206.9 L738.82,207.6 L740.7,208.28 L742.58,208.96 L744.46,209.63 L746.35,210.29 L748.24,210.94 L750.13,211.59 L752.03,212.23 L753.92,212.86 L755.82,213.49 L757.72,214.13 L759.62,214.76 L761.51,215.39 L763.41,216.02 L765.31,216.65 L767.21,217.28 L769.11,217.91 L771,218.54 L772.9,219.17 L774.8,219.8 L776.7,220.43 L778.6,221.05 L780.5,221.68 L782.4,222.3 L784.3,222.92 L786.2,223.54 L788.11,224.16 L790.01,224.78 L791.91,225.39 L793.81,226.01 L795.72,226.63 L797.62,227.24 L799.52,227.86 L801.42,228.48 L803.33,229.09 L805.23,229.71 L807.13,230.32 L809.03,230.94 L810.94,231.55 L812.84,232.17 L814.75,232.78 L816.65,233.39 L818.55,234 L820.46,234.61 L822.37,235.21 L824.27,235.82 L826.18,236.42 L828.09,237.03 L829.99,237.63 L831.9,238.23 L833.8,238.84 L835.71,239.44 L837.61,240.04 L839.5,240.64 L841.36,241.23 L843.19,241.81 L844.93,242.36 L846.56,242.88 L848.03,243.34 L849.29,243.74 L850.32,244.07" fill="none" stroke="#2E1F7E" stroke-width="2.4" stroke-dasharray="18.8 6.45 5.25 6.65" stroke-linejoin="round" stroke-dashoffset="-0.6"/>
<path d="M85,71.6 L86.99,71.75 L88.99,71.9 L90.98,72.05 L92.98,72.2 L94.97,72.35 L96.97,72.51 L98.96,72.66 L100.95,72.81 L102.95,72.96 L104.94,73.11 L106.94,73.26 L108.93,73.41 L110.93,73.56 L112.92,73.71 L114.91,73.86 L116.91,74.01 L118.9,74.16 L120.9,74.32 L122.89,74.47 L124.89,74.62 L126.88,74.77 L128.87,74.92 L130.87,75.07 L132.86,75.22 L134.86,75.37 L136.85,75.52 L138.85,75.67 L140.84,75.82 L142.83,75.98 L144.83,76.13 L146.82,76.28 L148.82,76.43 L150.81,76.58 L152.81,76.73 L154.8,76.88 L156.79,77.03 L158.79,77.18 L160.78,77.33 L162.78,77.48 L164.77,77.63 L166.77,77.79 L168.76,77.94 L170.75,78.09 L172.75,78.24 L174.74,78.39 L176.74,78.54 L178.73,78.69 L180.73,78.84 L182.72,78.99 L184.72,79.14 L186.71,79.3 L188.7,79.45 L190.7,79.6 L192.69,79.76 L194.69,79.91 L196.68,80.08 L198.67,80.25 L200.66,80.42 L202.65,80.6 L204.65,80.79 L206.64,80.99 L208.63,81.18 L210.62,81.38 L212.61,81.58 L214.6,81.78 L216.59,81.99 L218.58,82.19 L220.57,82.39 L222.56,82.59 L224.54,82.8 L226.53,83 L228.52,83.2 L230.51,83.4 L232.5,83.61 L234.49,83.81 L236.48,84.01 L238.47,84.21 L240.46,84.41 L242.45,84.62 L244.44,84.82 L246.43,85.02 L248.42,85.23 L250.41,85.43 L252.4,85.64 L254.39,85.86 L256.38,86.08 L258.36,86.3 L260.35,86.54 L262.33,86.78 L264.32,87.03 L266.3,87.29 L268.28,87.55 L270.27,87.82 L272.25,88.08 L274.23,88.35 L276.21,88.61 L278.19,88.88 L280.18,89.15 L282.16,89.41 L284.14,89.68 L286.12,89.95 L288.11,90.21 L290.09,90.48 L292.07,90.75 L294.05,91.01 L296.03,91.28 L298.02,91.54 L300,91.81 L301.98,92.08 L303.96,92.34 L305.94,92.61 L307.93,92.88 L309.91,93.15 L311.89,93.42 L313.87,93.69 L315.85,93.98 L317.83,94.27 L319.81,94.57 L321.78,94.88 L323.76,95.2 L325.73,95.52 L327.7,95.86 L329.67,96.2 L331.64,96.54 L333.61,96.88 L335.58,97.23 L337.55,97.57 L339.52,97.92 L341.49,98.26 L343.46,98.61 L345.43,98.95 L347.4,99.3 L349.37,99.64 L351.34,99.98 L353.31,100.33 L355.28,100.67 L357.25,101.02 L359.22,101.36 L361.19,101.71 L363.16,102.05 L365.13,102.4 L367.1,102.74 L369.07,103.09 L371.04,103.43 L373.01,103.78 L374.98,104.12 L376.95,104.47 L378.92,104.81 L380.89,105.16 L382.86,105.5 L384.83,105.85 L386.8,106.19 L388.77,106.55 L390.74,106.9 L392.7,107.27 L394.66,107.67 L396.61,108.08 L398.55,108.54 L400.48,109.03 L402.4,109.57 L404.31,110.14 L406.21,110.75 L408.11,111.37 L410,112.02 L411.89,112.67 L413.78,113.33 L415.67,113.99 L417.56,114.65 L419.45,115.3 L421.33,115.96 L423.22,116.62 L425.11,117.28 L427,117.93 L428.9,118.58 L430.79,119.22 L432.68,119.86 L434.58,120.49 L436.48,121.12 L438.38,121.75 L440.28,122.38 L442.18,123.01 L444.08,123.63 L445.97,124.26 L447.87,124.88 L449.77,125.51 L451.67,126.14 L453.57,126.78 L455.46,127.43 L457.34,128.09 L459.22,128.77 L461.09,129.48 L462.94,130.22 L464.79,130.99 L466.62,131.78 L468.45,132.59 L470.27,133.41 L472.08,134.24 L473.9,135.08 L475.71,135.92 L477.53,136.77 L479.34,137.61 L481.16,138.45 L482.97,139.3 L484.78,140.14 L486.59,140.99 L488.4,141.85 L490.2,142.72 L491.99,143.6 L493.77,144.51 L495.53,145.44 L497.28,146.4 L499.01,147.39 L500.73,148.41 L502.44,149.44 L504.14,150.49 L505.84,151.55 L507.53,152.61 L509.23,153.68 L510.92,154.74 L512.61,155.81 L514.3,156.88 L515.99,157.95 L517.68,159.02 L519.37,160.09 L521.06,161.16 L522.74,162.25 L524.41,163.34 L526.08,164.45 L527.73,165.57 L529.37,166.7 L531.01,167.86 L532.63,169.02 L534.25,170.19 L535.87,171.37 L537.48,172.55 L539.09,173.74 L540.71,174.92 L542.32,176.11 L543.93,177.29 L545.54,178.48 L547.14,179.67 L548.75,180.87 L550.35,182.07 L551.94,183.27 L553.52,184.5 L555.1,185.73 L556.66,186.97 L558.22,188.23 L559.76,189.49 L561.31,190.76 L562.85,192.04 L564.39,193.32 L565.93,194.59 L567.46,195.87 L569,197.15 L570.54,198.43 L572.08,199.71 L573.61,200.99 L575.15,202.27 L576.69,203.55 L578.22,204.83 L579.76,206.12 L581.29,207.4 L582.81,208.7 L584.33,210 L585.84,211.3 L587.34,212.62 L588.84,213.95 L590.32,215.29 L591.8,216.64 L593.27,217.99 L594.74,219.35 L596.21,220.71 L597.68,222.06 L599.15,223.42 L600.61,224.78 L602.08,226.14 L603.55,227.5 L605.01,228.86 L606.48,230.22 L607.94,231.59 L609.4,232.96 L610.85,234.33 L612.3,235.71 L613.73,237.1 L615.16,238.5 L616.58,239.91 L617.99,241.32 L619.4,242.75 L620.8,244.17 L622.2,245.6 L623.6,247.03 L625,248.46 L626.4,249.89 L627.8,251.32 L629.19,252.75 L630.59,254.18 L631.99,255.61 L633.39,257.04 L634.78,258.48 L636.17,259.91 L637.56,261.35 L638.95,262.79 L640.33,264.23 L641.71,265.68 L643.09,267.14 L644.46,268.59 L645.83,270.05 L647.2,271.51 L648.56,272.97 L649.93,274.43 L651.3,275.89 L652.66,277.35 L654.03,278.81 L655.4,280.27 L656.76,281.73 L658.13,283.19 L659.49,284.65 L660.85,286.12 L662.21,287.59 L663.56,289.06 L664.91,290.54 L666.25,292.03 L667.58,293.52 L668.91,295.01 L670.24,296.5 L671.56,298 L672.89,299.5 L674.21,301 L675.53,302.5 L676.86,304 L678.18,305.5 L679.5,307 L680.82,308.5 L682.14,310.01 L683.46,311.51 L684.76,313.03 L686.06,314.55 L687.35,316.08 L688.61,317.62 L689.86,319.18 L691.09,320.76 L692.3,322.35 L693.5,323.94 L694.69,325.55 L695.88,327.16 L697.06,328.77 L698.24,330.39 L699.42,332 L700.6,333.62 L701.78,335.23 L702.96,336.85 L704.14,338.46 L705.32,340.08 L706.51,341.69 L707.69,343.3 L708.89,344.9 L710.09,346.5 L711.29,348.1 L712.51,349.69 L713.73,351.27 L714.95,352.85 L716.18,354.43 L717.43,355.99 L718.68,357.55 L719.95,359.09 L721.23,360.63 L722.53,362.14 L723.85,363.64 L725.19,365.12 L726.55,366.58 L727.95,368.01 L729.36,369.41 L730.81,370.78 L732.29,372.12 L733.8,373.42 L735.35,374.67 L736.93,375.88 L738.54,377.03 L740.19,378.12 L741.88,379.13 L743.62,380.06 L745.39,380.89 L747.21,381.61 L749.06,382.21 L750.96,382.71 L752.88,383.11 L754.84,383.44 L756.8,383.69 L758.78,383.89 L760.77,384.04 L762.76,384.15 L764.76,384.23 L766.75,384.28 L768.75,384.32 L770.75,384.34 L772.75,384.36 L774.75,384.37 L776.75,384.38 L778.75,384.39 L780.75,384.4 L782.75,384.41 L784.74,384.42 L786.72,384.43 L788.69,384.44 L790.62,384.45 L792.48,384.46 L794.24,384.47 L795.86,384.48 L797.31,384.49 L798.56,384.49" fill="none" stroke="#2E1F7E" stroke-width="2.4" stroke-dasharray="23.5 13.65" stroke-linejoin="round" stroke-dashoffset="-0.3"/>
<path d="M725.0,364.5 L728.0,367.8 L732.0,371.8 L737.0,375.8 L742.0,379.2 L747.0,381.8 L752.0,383.3 L758.0,384.1 L758.0,384.5 L759.5,384.3 L761.0,384.2 L762.5,384.0 L764.0,384.7 L765.5,384.9 L767.0,384.1 L768.5,384.4 L770.0,383.3 L771.5,384.5 L773.0,384.4 L774.5,385.0 L776.0,384.7 L777.5,383.7 L779.0,383.9 L780.5,384.4 L782.0,383.2 L783.5,384.0 L785.0,383.5 L786.5,383.4 L788.0,383.3 L789.5,384.6 L791.0,383.4 L792.5,383.6 L794.0,383.9 L795.5,384.8 L797.0,383.3 L798.5,384.0 L800.0,384.2 L801.5,384.8 L803.0,384.7 L804.5,384.8 L806.0,383.7 L807.5,383.9 L809.0,383.8 L810.5,384.8 L812.0,384.9 L813.5,383.5 L815.0,383.5 L816.5,383.6 L818.0,383.6 L819.5,384.1 L821.0,384.3 L822.5,383.7 L824.0,383.2 L825.5,384.0 L827.0,383.9 L828.5,384.2 L830.0,384.9 L831.5,384.4 L833.0,384.1 L834.5,384.3 L836.0,384.4 L837.5,383.3 L839.0,384.8 L840.5,384.6 L842.0,384.8 L843.5,384.6 L845.0,383.9 L846.5,383.9 L848.0,383.4 L849.5,384.3 L851.0,383.3 L852,401.4 L805,401.4 L805,395 L766,394.6 L753,392.8 L747,389.3 L740,385.2 L734,380 L728,372.8 L725,367 Z" fill="#2E1F7E"/>
<rect x="766.00" y="394.00" width="1.15" height="7.40" fill="#2E1F7E"/>
<rect x="768.35" y="394.00" width="0.80" height="7.40" fill="#2E1F7E"/>
<rect x="770.10" y="394.00" width="0.84" height="7.40" fill="#2E1F7E"/>
<rect x="773.14" y="394.00" width="1.23" height="7.40" fill="#2E1F7E"/>
<rect x="775.55" y="394.00" width="2.24" height="7.40" fill="#2E1F7E"/>
<rect x="778.21" y="394.00" width="0.95" height="7.40" fill="#C41D02"/>
<rect x="780.57" y="394.00" width="2.21" height="7.40" fill="#2E1F7E"/>
<rect x="784.95" y="394.00" width="1.72" height="7.40" fill="#C41D02"/>
<rect x="793.58" y="394.00" width="1.08" height="7.40" fill="#2E1F7E"/>
<rect x="798.74" y="394.00" width="2.18" height="7.40" fill="#2E1F7E"/>
<path d="M733,366.5 L737,370.5 L741,373.8 L745,376.4 L749,378.4 L753,380 L757,381.2 L762,382 L762,382.44 L764,381.72 L766,382.12 L768,381.9 L770,381.44 L772,381.44 L774,381.79 L776,381.76 L778,382.37 L780,382.74 L782,382.03 L784,382.71 L786,382.78 L788,382.74 L790,381.91 L792,381.71 L794,381.72 L796,381.68 L798,381.69" fill="none" stroke="#C41D02" stroke-width="2.2" stroke-linejoin="round"/>
<rect x="747.00" y="381.45" width="1.88" height="2.15" fill="#C41D02"/>
<rect x="751.52" y="381.28" width="1.58" height="2.32" fill="#C41D02"/>
<rect x="755.92" y="380.80" width="1.59" height="2.80" fill="#C41D02"/>
<rect x="760.65" y="381.64" width="1.70" height="1.96" fill="#C41D02"/>
<rect x="764.08" y="380.91" width="1.75" height="2.69" fill="#C41D02"/>
<rect x="767.08" y="381.66" width="1.97" height="1.94" fill="#C41D02"/>
<rect x="770.27" y="381.18" width="1.94" height="2.42" fill="#C41D02"/>
<rect x="774.44" y="380.90" width="0.95" height="2.70" fill="#C41D02"/>
<rect x="776.90" y="381.79" width="1.77" height="1.81" fill="#C41D02"/>
<rect x="779.34" y="381.69" width="1.98" height="1.91" fill="#C41D02"/>
<rect x="783.31" y="381.12" width="1.46" height="2.48" fill="#C41D02"/>
<rect x="785.70" y="380.72" width="1.97" height="2.88" fill="#C41D02"/>
<rect x="789.65" y="381.33" width="1.92" height="2.27" fill="#C41D02"/>
<rect x="792.95" y="381.75" width="1.79" height="1.85" fill="#C41D02"/>
<rect x="795.58" y="381.00" width="1.15" height="2.60" fill="#C41D02"/>
<rect x="798.31" y="381.40" width="1.11" height="2.20" fill="#C41D02"/>
<rect x="806.00" y="395.00" width="2.00" height="6.40" fill="#C41D02"/>
<rect x="838.00" y="395.00" width="2.00" height="6.40" fill="#C41D02"/>
<rect x="844.00" y="395.00" width="2.50" height="6.40" fill="#C41D02"/>
<rect x="800.00" y="380.16" width="1.89" height="3.84" fill="#000000"/>
<rect x="802.21" y="380.55" width="1.50" height="3.45" fill="#000000"/>
<rect x="805.52" y="380.50" width="1.90" height="3.50" fill="#000000"/>
<rect x="808.02" y="380.64" width="1.43" height="3.36" fill="#000000"/>
<rect x="809.56" y="380.53" width="1.02" height="3.47" fill="#000000"/>
<rect x="811.06" y="380.96" width="1.01" height="3.04" fill="#000000"/>
<rect x="813.51" y="380.87" width="1.47" height="3.13" fill="#000000"/>
<rect x="815.66" y="380.62" width="1.47" height="3.38" fill="#000000"/>
<rect x="818.73" y="380.13" width="1.47" height="3.87" fill="#000000"/>
<rect x="820.73" y="380.33" width="1.73" height="3.67" fill="#000000"/>
<rect x="823.24" y="380.67" width="1.71" height="3.33" fill="#000000"/>
<rect x="826.57" y="380.53" width="1.54" height="3.47" fill="#000000"/>
<rect x="829.08" y="380.61" width="1.63" height="3.39" fill="#000000"/>
<rect x="831.49" y="380.64" width="1.37" height="3.36" fill="#000000"/>
<rect x="834.87" y="380.84" width="1.85" height="3.16" fill="#000000"/>
<rect x="838.25" y="380.31" width="1.47" height="3.69" fill="#000000"/>
<rect x="841.64" y="381.01" width="0.96" height="2.99" fill="#000000"/>
<rect x="843.38" y="380.53" width="0.89" height="3.47" fill="#000000"/>
<rect x="845.36" y="380.09" width="1.60" height="3.91" fill="#000000"/>
<rect x="848.43" y="381.08" width="0.99" height="2.92" fill="#000000"/>
<rect x="807.33" y="399.50" width="2.91" height="1.90" fill="#000000"/>
<rect x="810.53" y="399.50" width="2.98" height="1.90" fill="#000000"/>
<rect x="815.02" y="399.50" width="1.86" height="1.90" fill="#000000"/>
<rect x="818.57" y="399.50" width="1.39" height="1.90" fill="#000000"/>
<rect x="826.91" y="399.50" width="1.66" height="1.90" fill="#000000"/>
<rect x="839.65" y="399.50" width="1.08" height="1.90" fill="#000000"/>
<rect x="843.99" y="399.50" width="1.26" height="1.90" fill="#000000"/>
</g>
<rect x="103.9" y="113.4" width="312.4" height="276" fill="#fff" stroke="#5e5e5e" stroke-width="1.4"/>
<path d="M113.2,131 L181.6,131" fill="none" stroke="#000000" stroke-width="2.4" stroke-linejoin="round"/>
<text x="190.2" y="139.4" class="lg">Condat-Vu</text>
<path d="M113.2,157.74 L181.6,157.74" fill="none" stroke="#000000" stroke-width="2.4" stroke-dasharray="18.8 6.45 5.25 6.65" stroke-linejoin="round"/>
<text x="190.2" y="166.14" class="lg">Condat-Vu ergodic</text>
<path d="M113.2,184.48 L181.6,184.48" fill="none" stroke="#000000" stroke-width="2.4" stroke-dasharray="23.5 13.65" stroke-linejoin="round"/>
<text x="190.2" y="192.88" class="lg">accelerated Condat-Vu</text>
<path d="M113.2,211.22 L181.6,211.22" fill="none" stroke="#C41D02" stroke-width="2.4" stroke-linejoin="round"/>
<text x="190.2" y="219.62" class="lg">PDDY</text>
<path d="M113.2,237.96 L181.6,237.96" fill="none" stroke="#AC3C8E" stroke-width="2.4" stroke-linejoin="round"/>
<text x="190.2" y="246.36" class="lg">PDDY xR</text>
<path d="M113.2,264.7 L181.6,264.7" fill="none" stroke="#C41D02" stroke-width="2.4" stroke-dasharray="18.8 6.45 5.25 6.65" stroke-linejoin="round"/>
<text x="190.2" y="273.1" class="lg">PDDY ergodic</text>
<path d="M113.2,291.44 L181.6,291.44" fill="none" stroke="#C41D02" stroke-width="2.4" stroke-dasharray="23.5 13.65" stroke-linejoin="round"/>
<text x="190.2" y="299.84" class="lg">accelerated PDDY</text>
<path d="M113.2,318.18 L181.6,318.18" fill="none" stroke="#2E1F7E" stroke-width="2.4" stroke-linejoin="round"/>
<text x="190.2" y="326.58" class="lg">PD3O</text>
<path d="M113.2,344.92 L181.6,344.92" fill="none" stroke="#2E1F7E" stroke-width="2.4" stroke-dasharray="18.8 6.45 5.25 6.65" stroke-linejoin="round"/>
<text x="190.2" y="353.32" class="lg">PD3O ergodic</text>
<path d="M113.2,371.66 L181.6,371.66" fill="none" stroke="#2E1F7E" stroke-width="2.4" stroke-dasharray="23.5 13.65" stroke-linejoin="round"/>
<text x="190.2" y="380.06" class="lg">accelerated PD3O</text>
<text transform="translate(37.99,103.10) scale(0.93,1)" class="tk">10</text>
<text x="65.00" y="91.70" class="tk sup">5</text>
<text transform="translate(37.79,205.40) scale(0.93,1)" class="tk">10</text>
<text x="64.80" y="194.00" class="tk sup">0</text>
<text transform="translate(30.89,309.90) scale(0.93,1)" class="tk">10</text>
<text x="57.90" y="298.50" class="tk sup">-5</text>
<text transform="translate(19.09,414.90) scale(0.93,1)" class="tk">10</text>
<text x="46.10" y="403.50" class="tk sup">-10</text>
<text transform="translate(65.79,442.80) scale(0.93,1)" class="tk">10</text>
<text x="93.20" y="431.40" class="tk sup">0</text>
<text transform="translate(256.92,442.80) scale(0.93,1)" class="tk">10</text>
<text x="284.32" y="431.40" class="tk sup">1</text>
<text transform="translate(448.04,442.80) scale(0.93,1)" class="tk">10</text>
<text x="475.45" y="431.40" class="tk sup">2</text>
<text transform="translate(639.17,442.80) scale(0.93,1)" class="tk">10</text>
<text x="666.57" y="431.40" class="tk sup">3</text>
<text transform="translate(830.29,442.80) scale(0.93,1)" class="tk">10</text>
<text x="857.70" y="431.40" class="tk sup">4</text>
<path d="M1047.53,401.6v-4.2M1047.53,49.5v4.2M1081.18,401.6v-4.2M1081.18,49.5v4.2M1105.05,401.6v-4.2M1105.05,49.5v4.2M1123.57,401.6v-4.2M1123.57,49.5v4.2M1138.7,401.6v-4.2M1138.7,49.5v4.2M1151.5,401.6v-4.2M1151.5,49.5v4.2M1162.58,401.6v-4.2M1162.58,49.5v4.2M1172.36,401.6v-4.2M1172.36,49.5v4.2M1181.1,401.6v-7.2M1181.1,49.5v7.2M1238.63,401.6v-4.2M1238.63,49.5v4.2M1272.28,401.6v-4.2M1272.28,49.5v4.2M1296.15,401.6v-4.2M1296.15,49.5v4.2M1314.67,401.6v-4.2M1314.67,49.5v4.2M1329.8,401.6v-4.2M1329.8,49.5v4.2M1342.6,401.6v-4.2M1342.6,49.5v4.2M1353.68,401.6v-4.2M1353.68,49.5v4.2M1363.46,401.6v-4.2M1363.46,49.5v4.2M1372.2,401.6v-7.2M1372.2,49.5v7.2M1429.73,401.6v-4.2M1429.73,49.5v4.2M1463.38,401.6v-4.2M1463.38,49.5v4.2M1487.25,401.6v-4.2M1487.25,49.5v4.2M1505.77,401.6v-4.2M1505.77,49.5v4.2M1520.9,401.6v-4.2M1520.9,49.5v4.2M1533.7,401.6v-4.2M1533.7,49.5v4.2M1544.78,401.6v-4.2M1544.78,49.5v4.2M1554.56,401.6v-4.2M1554.56,49.5v4.2M1563.3,401.6v-7.2M1563.3,49.5v7.2M1620.83,401.6v-4.2M1620.83,49.5v4.2M1654.48,401.6v-4.2M1654.48,49.5v4.2M1678.35,401.6v-4.2M1678.35,49.5v4.2M1696.87,401.6v-4.2M1696.87,49.5v4.2M1712,401.6v-4.2M1712,49.5v4.2M1724.8,401.6v-4.2M1724.8,49.5v4.2M1735.88,401.6v-4.2M1735.88,49.5v4.2M1745.66,401.6v-4.2M1745.66,49.5v4.2M990,379.59h7.2M1754.4,379.59h-7.2M990,324.58h4.2M1754.4,324.58h-4.2M990,269.56h7.2M1754.4,269.56h-7.2M990,214.55h4.2M1754.4,214.55h-4.2M990,159.53h7.2M1754.4,159.53h-7.2M990,104.52h4.2M1754.4,104.52h-4.2" stroke="#5e5e5e" stroke-width="1.4" fill="none"/>
<rect x="990" y="49.5" width="764.4" height="352.1" fill="none" stroke="#5e5e5e" stroke-width="1.4"/>
<g clip-path="url(#cr)">
<path d="M990,77 L992,77.02 L994,77.04 L996,77.06 L998,77.08 L1000,77.1 L1002,77.12 L1004,77.14 L1006,77.16 L1008,77.18 L1010,77.2 L1012,77.22 L1014,77.24 L1016,77.26 L1018,77.28 L1020,77.3 L1022,77.32 L1024,77.34 L1026,77.36 L1028,77.38 L1030,77.4 L1032,77.42 L1034,77.44 L1036,77.46 L1038,77.48 L1040,77.5 L1042,77.52 L1044,77.54 L1046,77.57 L1048,77.59 L1050,77.61 L1052,77.64 L1054,77.67 L1056,77.7 L1058,77.73 L1060,77.76 L1062,77.79 L1064,77.82 L1065.99,77.85 L1067.99,77.89 L1069.99,77.92 L1071.99,77.95 L1073.99,77.98 L1075.99,78.01 L1077.99,78.05 L1079.99,78.08 L1081.99,78.11 L1083.99,78.14 L1085.99,78.17 L1087.99,78.2 L1089.99,78.24 L1091.99,78.27 L1093.99,78.3 L1095.99,78.33 L1097.99,78.36 L1099.99,78.4 L1101.99,78.43 L1103.99,78.46 L1105.99,78.49 L1107.99,78.52 L1109.99,78.56 L1111.99,78.59 L1113.99,78.62 L1115.99,78.65 L1117.99,78.68 L1119.99,78.72 L1121.99,78.75 L1123.99,78.78 L1125.99,78.81 L1127.99,78.84 L1129.99,78.88 L1131.99,78.91 L1133.99,78.94 L1135.99,78.97 L1137.99,79.01 L1139.99,79.04 L1141.99,79.07 L1143.98,79.1 L1145.98,79.14 L1147.98,79.17 L1149.98,79.2 L1151.98,79.23 L1153.98,79.26 L1155.98,79.3 L1157.98,79.33 L1159.98,79.36 L1161.98,79.39 L1163.98,79.42 L1165.98,79.46 L1167.98,79.49 L1169.98,79.52 L1171.98,79.55 L1173.98,79.58 L1175.98,79.62 L1177.98,79.65 L1179.98,79.68 L1181.98,79.71 L1183.98,79.74 L1185.98,79.78 L1187.98,79.81 L1189.98,79.84 L1191.98,79.87 L1193.98,79.9 L1195.98,79.94 L1197.98,79.97 L1199.98,80.01 L1201.98,80.04 L1203.98,80.08 L1205.98,80.11 L1207.98,80.15 L1209.98,80.18 L1211.98,80.22 L1213.98,80.26 L1215.98,80.29 L1217.97,80.33 L1219.97,80.37 L1221.97,80.41 L1223.97,80.44 L1225.97,80.48 L1227.97,80.52 L1229.97,80.55 L1231.97,80.59 L1233.97,80.63 L1235.97,80.66 L1237.97,80.7 L1239.97,80.74 L1241.97,80.77 L1243.97,80.81 L1245.97,80.85 L1247.97,80.89 L1249.97,80.92 L1251.97,80.96 L1253.97,81 L1255.97,81.04 L1257.97,81.08 L1259.97,81.13 L1261.97,81.18 L1263.96,81.24 L1265.96,81.31 L1267.96,81.39 L1269.96,81.48 L1271.96,81.57 L1273.95,81.67 L1275.95,81.77 L1277.95,81.87 L1279.95,81.97 L1281.94,82.07 L1283.94,82.17 L1285.94,82.28 L1287.94,82.38 L1289.93,82.48 L1291.93,82.59 L1293.93,82.69 L1295.93,82.8 L1297.92,82.91 L1299.92,83.02 L1301.92,83.13 L1303.91,83.25 L1305.91,83.36 L1307.91,83.48 L1309.9,83.6 L1311.9,83.72 L1313.9,83.84 L1315.89,83.96 L1317.89,84.08 L1319.88,84.2 L1321.88,84.32 L1323.88,84.45 L1325.87,84.57 L1327.87,84.69 L1329.87,84.81 L1331.86,84.93 L1333.86,85.05 L1335.85,85.18 L1337.85,85.3 L1339.85,85.43 L1341.84,85.56 L1343.84,85.69 L1345.83,85.82 L1347.83,85.95 L1349.83,86.08 L1351.82,86.21 L1353.82,86.34 L1355.81,86.47 L1357.81,86.6 L1359.8,86.73 L1361.8,86.87 L1363.8,87 L1365.79,87.13 L1367.79,87.27 L1369.78,87.41 L1371.78,87.56 L1373.77,87.71 L1375.76,87.87 L1377.76,88.03 L1379.75,88.19 L1381.74,88.36 L1383.74,88.53 L1385.73,88.7 L1387.72,88.87 L1389.71,89.05 L1391.71,89.22 L1393.7,89.39 L1395.69,89.56 L1397.68,89.74 L1399.68,89.91 L1401.67,90.09 L1403.66,90.26 L1405.65,90.45 L1407.64,90.63 L1409.63,90.83 L1411.62,91.03 L1413.61,91.23 L1415.6,91.45 L1417.59,91.66 L1419.58,91.88 L1421.56,92.11 L1423.55,92.33 L1425.54,92.55 L1427.53,92.78 L1429.51,93 L1431.5,93.23 L1433.49,93.45 L1435.47,93.68 L1437.46,93.92 L1439.45,94.15 L1441.43,94.4 L1443.42,94.65 L1445.4,94.91 L1447.38,95.17 L1449.36,95.44 L1451.34,95.72 L1453.32,96 L1455.3,96.28 L1457.28,96.56 L1459.26,96.84 L1461.24,97.12 L1463.22,97.4 L1465.2,97.68 L1467.18,97.97 L1469.16,98.25 L1471.14,98.53 L1473.12,98.81 L1475.1,99.1 L1477.08,99.39 L1479.06,99.68 L1481.04,99.97 L1483.02,100.28 L1484.99,100.59 L1486.97,100.91 L1488.94,101.23 L1490.91,101.56 L1492.88,101.9 L1494.85,102.23 L1496.83,102.57 L1498.8,102.91 L1500.77,103.25 L1502.74,103.59 L1504.71,103.92 L1506.68,104.26 L1508.65,104.6 L1510.62,104.94 L1512.59,105.29 L1514.56,105.63 L1516.53,105.98 L1518.5,106.34 L1520.47,106.7 L1522.43,107.07 L1524.4,107.45 L1526.36,107.84 L1528.32,108.22 L1530.28,108.62 L1532.24,109.01 L1534.2,109.4 L1536.16,109.8 L1538.12,110.19 L1540.08,110.59 L1542.04,110.98 L1544.01,111.38 L1545.97,111.78 L1547.93,112.17 L1549.89,112.57 L1551.85,112.97 L1553.81,113.36 L1555.77,113.76 L1557.73,114.16 L1559.68,114.57 L1561.64,114.97 L1563.6,115.38 L1565.56,115.78 L1567.52,116.19 L1569.48,116.6 L1571.43,117.01 L1573.39,117.41 L1575.35,117.82 L1577.31,118.23 L1579.27,118.64 L1581.22,119.05 L1583.18,119.46 L1585.14,119.87 L1587.09,120.28 L1589.05,120.7 L1591.01,121.12 L1592.96,121.55 L1594.91,121.98 L1596.86,122.42 L1598.81,122.87 L1600.76,123.32 L1602.71,123.77 L1604.66,124.22 L1606.61,124.68 L1608.55,125.13 L1610.5,125.58 L1612.45,126.04 L1614.4,126.49 L1616.34,126.95 L1618.29,127.4 L1620.24,127.86 L1622.19,128.31 L1624.13,128.77 L1626.08,129.23 L1628.02,129.7 L1629.97,130.17 L1631.91,130.64 L1633.86,131.11 L1635.8,131.59 L1637.74,132.06 L1639.68,132.54 L1641.62,133.02 L1643.57,133.5 L1645.51,133.98 L1647.45,134.46 L1649.39,134.94 L1651.33,135.42 L1653.27,135.9 L1655.21,136.38 L1657.16,136.86 L1659.1,137.35 L1661.04,137.83 L1662.98,138.32 L1664.92,138.81 L1666.85,139.3 L1668.79,139.8 L1670.73,140.3 L1672.66,140.8 L1674.6,141.3 L1676.54,141.8 L1678.47,142.31 L1680.41,142.81 L1682.34,143.31 L1684.28,143.82 L1686.21,144.32 L1688.15,144.82 L1690.08,145.33 L1692.02,145.83 L1693.96,146.33 L1695.9,146.82 L1697.83,147.31 L1699.78,147.79 L1701.72,148.26 L1703.67,148.72 L1705.61,149.17 L1707.56,149.61 L1709.51,150.05 L1711.47,150.49 L1713.42,150.92 L1715.37,151.35 L1717.33,151.78 L1719.28,152.21 L1721.23,152.64 L1723.19,153.07 L1725.14,153.49 L1727.09,153.93 L1729.05,154.36 L1731,154.79 L1732.95,155.22 L1734.9,155.66 L1736.85,156.11 L1738.8,156.55 L1740.75,157 L1742.69,157.46 L1744.62,157.91 L1746.54,158.36 L1748.42,158.81 L1750.27,159.24 L1752.05,159.66 L1753.76,160.07 L1755.38,160.45" fill="none" stroke="#000000" stroke-width="2.4" stroke-dasharray="23.5 13.65" stroke-linejoin="round" stroke-dashoffset="-0.3"/>
<path d="M990,78.1 L992,78.15 L994,78.19 L996,78.24 L998,78.28 L1000,78.33 L1002,78.37 L1004,78.42 L1006,78.46 L1008,78.51 L1009.99,78.56 L1011.99,78.6 L1013.99,78.65 L1015.99,78.69 L1017.99,78.74 L1019.99,78.78 L1021.99,78.83 L1023.99,78.87 L1025.99,78.92 L1027.99,78.97 L1029.99,79.01 L1031.99,79.06 L1033.99,79.1 L1035.99,79.15 L1037.99,79.19 L1039.99,79.24 L1041.99,79.28 L1043.99,79.33 L1045.99,79.38 L1047.98,79.42 L1049.98,79.47 L1051.98,79.51 L1053.98,79.56 L1055.98,79.6 L1057.98,79.65 L1059.98,79.69 L1061.98,79.74 L1063.98,79.79 L1065.98,79.83 L1067.98,79.88 L1069.98,79.92 L1071.98,79.97 L1073.98,80.01 L1075.98,80.06 L1077.98,80.1 L1079.98,80.15 L1081.98,80.2 L1083.98,80.24 L1085.98,80.29 L1087.97,80.33 L1089.97,80.38 L1091.97,80.42 L1093.97,80.47 L1095.97,80.51 L1097.97,80.56 L1099.97,80.61 L1101.97,80.65 L1103.97,80.7 L1105.97,80.74 L1107.97,80.79 L1109.97,80.83 L1111.97,80.88 L1113.97,80.92 L1115.97,80.97 L1117.97,81.02 L1119.97,81.06 L1121.97,81.11 L1123.97,81.15 L1125.96,81.2 L1127.96,81.24 L1129.96,81.29 L1131.96,81.33 L1133.96,81.38 L1135.96,81.43 L1137.96,81.47 L1139.96,81.52 L1141.96,81.58 L1143.96,81.63 L1145.96,81.7 L1147.96,81.76 L1149.95,81.84 L1151.95,81.92 L1153.95,82.01 L1155.95,82.11 L1157.95,82.2 L1159.94,82.3 L1161.94,82.4 L1163.94,82.5 L1165.94,82.6 L1167.93,82.71 L1169.93,82.81 L1171.93,82.91 L1173.93,83.01 L1175.92,83.11 L1177.92,83.21 L1179.92,83.31 L1181.92,83.41 L1183.91,83.51 L1185.91,83.61 L1187.91,83.71 L1189.91,83.81 L1191.9,83.91 L1193.9,84.01 L1195.9,84.12 L1197.9,84.22 L1199.89,84.32 L1201.89,84.42 L1203.89,84.52 L1205.89,84.62 L1207.88,84.72 L1209.88,84.82 L1211.88,84.92 L1213.88,85.02 L1215.87,85.12 L1217.87,85.22 L1219.87,85.32 L1221.87,85.42 L1223.86,85.53 L1225.86,85.63 L1227.86,85.73 L1229.85,85.83 L1231.85,85.93 L1233.85,86.03 L1235.85,86.13 L1237.84,86.23 L1239.84,86.33 L1241.84,86.43 L1243.84,86.53 L1245.83,86.63 L1247.83,86.73 L1249.83,86.84 L1251.83,86.94 L1253.82,87.04 L1255.82,87.15 L1257.82,87.26 L1259.81,87.38 L1261.81,87.52 L1263.8,87.66 L1265.79,87.83 L1267.78,88.01 L1269.77,88.21 L1271.76,88.43 L1273.75,88.65 L1275.73,88.88 L1277.72,89.11 L1279.71,89.34 L1281.69,89.58 L1283.68,89.81 L1285.67,90.05 L1287.65,90.28 L1289.64,90.52 L1291.62,90.75 L1293.61,90.99 L1295.6,91.22 L1297.58,91.46 L1299.57,91.7 L1301.55,91.93 L1303.54,92.17 L1305.53,92.4 L1307.51,92.64 L1309.5,92.87 L1311.49,93.11 L1313.47,93.34 L1315.46,93.58 L1317.44,93.81 L1319.43,94.05 L1321.42,94.29 L1323.4,94.53 L1325.39,94.77 L1327.37,95.02 L1329.35,95.28 L1331.33,95.55 L1333.32,95.82 L1335.3,96.1 L1337.27,96.39 L1339.25,96.7 L1341.22,97.01 L1343.19,97.35 L1345.16,97.7 L1347.12,98.08 L1349.08,98.48 L1351.03,98.9 L1352.99,99.34 L1354.93,99.78 L1356.88,100.23 L1358.83,100.69 L1360.77,101.16 L1362.72,101.63 L1364.66,102.1 L1366.6,102.58 L1368.54,103.06 L1370.48,103.55 L1372.42,104.05 L1374.36,104.55 L1376.29,105.07 L1378.22,105.59 L1380.14,106.13 L1382.06,106.68 L1383.98,107.25 L1385.9,107.82 L1387.8,108.42 L1389.71,109.03 L1391.6,109.65 L1393.49,110.31 L1395.37,110.98 L1397.24,111.68 L1399.11,112.4 L1400.97,113.13 L1402.83,113.87 L1404.68,114.61 L1406.54,115.37 L1408.39,116.13 L1410.23,116.89 L1412.08,117.66 L1413.92,118.44 L1415.77,119.21 L1417.61,119.98 L1419.46,120.76 L1421.3,121.53 L1423.15,122.3 L1424.99,123.06 L1426.84,123.82 L1428.7,124.57 L1430.55,125.31 L1432.42,126.04 L1434.29,126.75 L1436.16,127.45 L1438.04,128.13 L1439.92,128.8 L1441.81,129.46 L1443.7,130.11 L1445.6,130.74 L1447.5,131.36 L1449.41,131.97 L1451.31,132.57 L1453.23,133.15 L1455.14,133.73 L1457.06,134.3 L1458.98,134.86 L1460.9,135.41 L1462.82,135.96 L1464.75,136.49 L1466.68,137.02 L1468.61,137.54 L1470.54,138.05 L1472.48,138.56 L1474.41,139.07 L1476.35,139.57 L1478.29,140.06 L1480.23,140.55 L1482.17,141.03 L1484.11,141.52 L1486.05,142 L1487.99,142.47 L1489.93,142.95 L1491.88,143.42 L1493.82,143.89 L1495.77,144.36 L1497.71,144.83 L1499.65,145.3 L1501.6,145.77 L1503.54,146.24 L1505.49,146.71 L1507.43,147.18 L1509.37,147.65 L1511.32,148.12 L1513.26,148.59 L1515.2,149.07 L1517.14,149.55 L1519.09,150.03 L1521.03,150.52 L1522.97,151 L1524.91,151.49 L1526.84,151.99 L1528.78,152.49 L1530.72,152.99 L1532.65,153.49 L1534.58,154.01 L1536.52,154.52 L1538.45,155.04 L1540.38,155.57 L1542.3,156.1 L1544.23,156.64 L1546.16,157.18 L1548.08,157.73 L1550,158.29 L1551.92,158.85 L1553.84,159.42 L1555.75,160 L1557.66,160.58 L1559.57,161.17 L1561.48,161.77 L1563.39,162.37 L1565.29,162.98 L1567.19,163.6 L1569.09,164.23 L1570.99,164.87 L1572.88,165.52 L1574.77,166.17 L1576.66,166.83 L1578.54,167.51 L1580.42,168.19 L1582.3,168.88 L1584.17,169.58 L1586.04,170.28 L1587.91,171 L1589.77,171.73 L1591.63,172.47 L1593.48,173.22 L1595.33,173.98 L1597.18,174.74 L1599.02,175.52 L1600.86,176.31 L1602.69,177.11 L1604.52,177.92 L1606.34,178.75 L1608.16,179.58 L1609.97,180.42 L1611.78,181.28 L1613.58,182.15 L1615.38,183.02 L1617.17,183.91 L1618.95,184.81 L1620.73,185.73 L1622.51,186.65 L1624.27,187.59 L1626.03,188.54 L1627.79,189.5 L1629.53,190.47 L1631.27,191.45 L1633.01,192.45 L1634.73,193.46 L1636.45,194.48 L1638.16,195.52 L1639.87,196.56 L1641.57,197.62 L1643.25,198.69 L1644.94,199.77 L1646.61,200.87 L1648.27,201.98 L1649.93,203.1 L1651.58,204.23 L1653.22,205.37 L1654.85,206.53 L1656.47,207.7 L1658.08,208.88 L1659.69,210.07 L1661.28,211.28 L1662.87,212.5 L1664.44,213.73 L1666.01,214.97 L1667.57,216.22 L1669.12,217.49 L1670.65,218.77 L1672.18,220.05 L1673.7,221.36 L1675.21,222.67 L1676.71,223.99 L1678.2,225.33 L1679.68,226.67 L1681.14,228.03 L1682.6,229.4 L1684.05,230.77 L1685.49,232.16 L1686.92,233.56 L1688.33,234.97 L1689.74,236.39 L1691.14,237.83 L1692.52,239.27 L1693.9,240.72 L1695.27,242.18 L1696.62,243.65 L1697.97,245.13 L1699.3,246.62 L1700.63,248.11 L1701.94,249.62 L1703.24,251.14 L1704.54,252.66 L1705.82,254.2 L1707.09,255.74 L1708.36,257.29 L1709.61,258.85 L1710.85,260.41 L1712.09,261.99 L1713.31,263.57 L1714.52,265.16 L1715.73,266.75 L1716.92,268.36 L1718.1,269.97 L1719.28,271.59 L1720.44,273.21 L1721.6,274.85 L1722.75,276.48 L1723.88,278.13 L1725.01,279.78 L1726.13,281.44 L1727.24,283.1 L1728.34,284.77 L1729.43,286.45 L1730.51,288.13 L1731.58,289.82 L1732.65,291.51 L1733.71,293.21 L1734.75,294.91 L1735.79,296.62 L1736.82,298.33 L1737.85,300.05 L1738.86,301.78 L1739.87,303.5 L1740.86,305.24 L1741.85,306.97 L1742.84,308.72 L1743.81,310.46 L1744.78,312.21 L1745.74,313.97 L1746.69,315.73 L1747.63,317.49 L1748.57,319.25 L1749.5,321.01 L1750.41,322.77 L1751.31,324.51 L1752.18,326.21 L1753.01,327.85 L1753.79,329.4 L1754.51,330.82 L1755.15,332.1 L1755.44,332.69" fill="none" stroke="#000000" stroke-width="2.4" stroke-linejoin="round"/>
<path d="M990,76.6 L992,76.65 L994,76.71 L996,76.76 L998,76.82 L1000,76.87 L1002,76.93 L1003.99,76.98 L1005.99,77.04 L1007.99,77.09 L1009.99,77.14 L1011.99,77.2 L1013.99,77.25 L1015.99,77.31 L1017.99,77.36 L1019.99,77.42 L1021.99,77.47 L1023.99,77.52 L1025.99,77.58 L1027.99,77.63 L1029.99,77.69 L1031.98,77.74 L1033.98,77.8 L1035.98,77.85 L1037.98,77.91 L1039.98,77.96 L1041.98,78.01 L1043.98,78.07 L1045.98,78.12 L1047.98,78.18 L1049.98,78.23 L1051.98,78.29 L1053.98,78.34 L1055.98,78.4 L1057.97,78.45 L1059.97,78.5 L1061.97,78.56 L1063.97,78.61 L1065.97,78.67 L1067.97,78.72 L1069.97,78.78 L1071.97,78.83 L1073.97,78.89 L1075.97,78.94 L1077.97,78.99 L1079.97,79.05 L1081.97,79.1 L1083.97,79.16 L1085.96,79.21 L1087.96,79.27 L1089.96,79.32 L1091.96,79.37 L1093.96,79.43 L1095.96,79.48 L1097.96,79.54 L1099.96,79.59 L1101.96,79.65 L1103.96,79.7 L1105.96,79.76 L1107.96,79.81 L1109.96,79.86 L1111.95,79.92 L1113.95,79.97 L1115.95,80.03 L1117.95,80.08 L1119.95,80.14 L1121.95,80.19 L1123.95,80.25 L1125.95,80.3 L1127.95,80.35 L1129.95,80.41 L1131.95,80.46 L1133.95,80.52 L1135.95,80.57 L1137.95,80.63 L1139.94,80.69 L1141.94,80.75 L1143.94,80.81 L1145.94,80.88 L1147.94,80.96 L1149.94,81.05 L1151.93,81.14 L1153.93,81.23 L1155.93,81.33 L1157.93,81.44 L1159.92,81.54 L1161.92,81.65 L1163.92,81.76 L1165.92,81.86 L1167.91,81.97 L1169.91,82.08 L1171.91,82.19 L1173.9,82.29 L1175.9,82.4 L1177.9,82.51 L1179.9,82.62 L1181.89,82.72 L1183.89,82.83 L1185.89,82.94 L1187.88,83.05 L1189.88,83.16 L1191.88,83.26 L1193.88,83.37 L1195.87,83.48 L1197.87,83.59 L1199.87,83.69 L1201.86,83.8 L1203.86,83.91 L1205.86,84.02 L1207.85,84.12 L1209.85,84.23 L1211.85,84.34 L1213.85,84.45 L1215.84,84.55 L1217.84,84.66 L1219.84,84.77 L1221.83,84.88 L1223.83,84.98 L1225.83,85.09 L1227.83,85.2 L1229.82,85.31 L1231.82,85.41 L1233.82,85.52 L1235.81,85.63 L1237.81,85.74 L1239.81,85.84 L1241.81,85.95 L1243.8,86.06 L1245.8,86.17 L1247.8,86.27 L1249.79,86.38 L1251.79,86.49 L1253.79,86.6 L1255.78,86.71 L1257.78,86.83 L1259.78,86.96 L1261.77,87.1 L1263.76,87.25 L1265.75,87.42 L1267.75,87.61 L1269.73,87.82 L1271.72,88.03 L1273.71,88.26 L1275.69,88.49 L1277.68,88.72 L1279.67,88.96 L1281.65,89.2 L1283.64,89.44 L1285.62,89.67 L1287.61,89.91 L1289.6,90.15 L1291.58,90.39 L1293.57,90.63 L1295.55,90.87 L1297.54,91.1 L1299.52,91.34 L1301.51,91.58 L1303.5,91.82 L1305.48,92.06 L1307.47,92.3 L1309.45,92.53 L1311.44,92.77 L1313.42,93.01 L1315.41,93.25 L1317.4,93.49 L1319.38,93.73 L1321.37,93.97 L1323.35,94.22 L1325.34,94.46 L1327.32,94.72 L1329.3,94.98 L1331.28,95.26 L1333.26,95.54 L1335.24,95.83 L1337.22,96.12 L1339.2,96.42 L1341.17,96.73 L1343.15,97.05 L1345.12,97.36 L1347.1,97.69 L1349.07,98.02 L1351.04,98.35 L1353.01,98.7 L1354.98,99.05 L1356.94,99.41 L1358.91,99.78 L1360.87,100.16 L1362.83,100.56 L1364.79,100.97 L1366.74,101.39 L1368.7,101.82 L1370.65,102.26 L1372.6,102.69 L1374.55,103.13 L1376.5,103.57 L1378.45,104.01 L1380.4,104.45 L1382.36,104.89 L1384.31,105.32 L1386.26,105.76 L1388.21,106.2 L1390.16,106.65 L1392.11,107.1 L1394.05,107.57 L1395.99,108.06 L1397.92,108.56 L1399.85,109.09 L1401.77,109.63 L1403.69,110.19 L1405.61,110.75 L1407.53,111.33 L1409.44,111.9 L1411.36,112.48 L1413.27,113.06 L1415.19,113.63 L1417.1,114.21 L1419.02,114.78 L1420.93,115.34 L1422.85,115.91 L1424.75,116.47 L1426.66,117.03 L1428.55,117.58 L1430.43,118.13 L1432.3,118.67" fill="none" stroke="#C41D02" stroke-width="2.4" stroke-dasharray="23.5 13.65" stroke-linejoin="round" stroke-dashoffset="-0.3"/>
<path d="M990,78.1 L992,78.15 L994,78.19 L996,78.24 L998,78.28 L1000,78.33 L1002,78.37 L1004,78.42 L1006,78.46 L1008,78.51 L1009.99,78.56 L1011.99,78.6 L1013.99,78.65 L1015.99,78.69 L1017.99,78.74 L1019.99,78.78 L1021.99,78.83 L1023.99,78.87 L1025.99,78.92 L1027.99,78.97 L1029.99,79.01 L1031.99,79.06 L1033.99,79.1 L1035.99,79.15 L1037.99,79.19 L1039.99,79.24 L1041.99,79.28 L1043.99,79.33 L1045.99,79.38 L1047.98,79.42 L1049.98,79.47 L1051.98,79.51 L1053.98,79.56 L1055.98,79.6 L1057.98,79.65 L1059.98,79.69 L1061.98,79.74 L1063.98,79.79 L1065.98,79.83 L1067.98,79.88 L1069.98,79.92 L1071.98,79.97 L1073.98,80.01 L1075.98,80.06 L1077.98,80.1 L1079.98,80.15 L1081.98,80.2 L1083.98,80.24 L1085.98,80.29 L1087.97,80.33 L1089.97,80.38 L1091.97,80.42 L1093.97,80.47 L1095.97,80.51 L1097.97,80.56 L1099.97,80.61 L1101.97,80.65 L1103.97,80.7 L1105.97,80.74 L1107.97,80.79 L1109.97,80.83 L1111.97,80.88 L1113.97,80.92 L1115.97,80.97 L1117.97,81.02 L1119.97,81.06 L1121.97,81.11 L1123.97,81.15 L1125.96,81.2 L1127.96,81.24 L1129.96,81.29 L1131.96,81.33 L1133.96,81.38 L1135.96,81.43 L1137.96,81.47 L1139.96,81.52 L1141.96,81.58 L1143.96,81.63 L1145.96,81.7 L1147.96,81.76 L1149.95,81.84 L1151.95,81.92 L1153.95,82.01 L1155.95,82.11 L1157.95,82.2 L1159.94,82.3 L1161.94,82.4 L1163.94,82.5 L1165.94,82.6 L1167.93,82.71 L1169.93,82.81 L1171.93,82.91 L1173.93,83.01 L1175.92,83.11 L1177.92,83.21 L1179.92,83.31 L1181.92,83.41 L1183.91,83.51 L1185.91,83.61 L1187.91,83.71 L1189.91,83.81 L1191.9,83.91 L1193.9,84.01 L1195.9,84.12 L1197.9,84.22 L1199.89,84.32 L1201.89,84.42 L1203.89,84.52 L1205.89,84.62 L1207.88,84.72 L1209.88,84.82 L1211.88,84.92 L1213.88,85.02 L1215.87,85.12 L1217.87,85.22 L1219.87,85.32 L1221.87,85.42 L1223.86,85.53 L1225.86,85.63 L1227.86,85.73 L1229.85,85.83 L1231.85,85.93 L1233.85,86.03 L1235.85,86.13 L1237.84,86.23 L1239.84,86.33 L1241.84,86.43 L1243.84,86.53 L1245.83,86.63 L1247.83,86.73 L1249.83,86.84 L1251.83,86.94 L1253.82,87.04 L1255.82,87.15 L1257.82,87.26 L1259.81,87.38 L1261.81,87.52 L1263.8,87.66 L1265.79,87.83 L1267.78,88.01 L1269.77,88.21 L1271.76,88.43 L1273.75,88.65 L1275.73,88.88 L1277.72,89.11 L1279.71,89.34 L1281.69,89.58 L1283.68,89.81 L1285.67,90.05 L1287.65,90.28 L1289.64,90.52 L1291.62,90.75 L1293.61,90.99 L1295.6,91.22 L1297.58,91.46 L1299.57,91.7 L1301.55,91.93 L1303.54,92.17 L1305.53,92.4 L1307.51,92.64 L1309.5,92.87 L1311.49,93.11 L1313.47,93.34 L1315.46,93.58 L1317.44,93.81 L1319.43,94.05 L1321.42,94.29 L1323.4,94.53 L1325.39,94.77 L1327.37,95.02 L1329.35,95.28 L1331.33,95.55 L1333.32,95.82 L1335.3,96.1 L1337.27,96.39 L1339.25,96.7 L1341.22,97.01 L1343.19,97.35 L1345.16,97.7 L1347.12,98.08 L1349.08,98.48 L1351.03,98.9 L1352.99,99.34 L1354.93,99.78 L1356.88,100.23 L1358.83,100.69 L1360.77,101.16 L1362.72,101.63 L1364.66,102.1 L1366.6,102.58 L1368.54,103.06 L1370.48,103.55 L1372.42,104.05 L1374.36,104.55 L1376.29,105.07 L1378.22,105.59 L1380.14,106.13 L1382.06,106.68 L1383.98,107.25 L1385.9,107.82 L1387.8,108.42 L1389.71,109.03 L1391.6,109.65 L1393.49,110.31 L1395.37,110.98 L1397.24,111.68 L1399.11,112.4 L1400.97,113.13 L1402.83,113.87 L1404.68,114.63 L1406.53,115.39 L1408.37,116.17 L1410.21,116.95 L1412.04,117.75 L1413.87,118.55 L1415.7,119.37 L1417.52,120.19 L1419.34,121.01 L1421.16,121.85 L1422.97,122.69 L1424.78,123.55 L1426.58,124.42 L1428.38,125.29 L1430.17,126.18 L1431.96,127.08 L1433.74,127.98 L1435.52,128.9 L1437.29,129.82 L1439.05,130.76 L1440.81,131.72 L1442.55,132.7 L1444.29,133.69 L1446.01,134.7 L1447.73,135.72 L1449.45,136.75 L1451.15,137.8 L1452.84,138.86 L1454.53,139.93 L1456.2,141.02 L1457.86,142.14 L1459.5,143.28 L1461.12,144.44 L1462.73,145.63 L1464.32,146.83 L1465.9,148.06 L1467.47,149.29 L1469.04,150.54 L1470.6,151.79 L1472.15,153.05 L1473.7,154.31 L1475.24,155.59 L1476.77,156.87 L1478.3,158.16 L1479.81,159.47 L1481.32,160.79 L1482.81,162.12 L1484.29,163.46 L1485.75,164.82 L1487.2,166.19 L1488.64,167.58 L1490.07,168.99 L1491.48,170.4 L1492.88,171.82 L1494.27,173.26 L1495.66,174.7 L1497.03,176.16 L1498.39,177.62 L1499.75,179.09 L1501.09,180.57 L1502.43,182.06 L1503.75,183.55 L1505.07,185.06 L1506.38,186.57 L1507.67,188.09 L1508.97,189.62 L1510.26,191.14 L1511.56,192.67 L1512.86,194.19 L1514.16,195.7 L1515.47,197.22 L1516.78,198.73 L1518.08,200.24 L1519.38,201.77 L1520.66,203.3 L1521.93,204.84 L1523.18,206.4 L1524.41,207.98 L1525.62,209.56 L1526.83,211.16 L1528.02,212.76 L1529.2,214.37 L1530.37,215.99 L1531.54,217.62 L1532.69,219.26 L1533.83,220.9 L1534.96,222.55 L1536.09,224.2 L1537.22,225.85 L1538.34,227.5 L1539.47,229.16 L1540.6,230.81 L1541.73,232.45 L1542.86,234.1 L1544,235.75 L1545.13,237.4 L1546.26,239.04 L1547.39,240.69 L1548.52,242.35 L1549.64,244 L1550.76,245.66 L1551.87,247.32 L1552.99,248.98 L1554.1,250.65 L1555.21,252.31 L1556.32,253.98 L1557.43,255.64 L1558.53,257.3 L1559.64,258.97 L1560.75,260.64 L1561.85,262.31 L1562.94,263.98 L1564.02,265.66 L1565.09,267.35 L1566.15,269.05 L1567.19,270.76 L1568.21,272.47 L1569.22,274.19 L1570.23,275.92 L1571.23,277.66 L1572.22,279.39 L1573.2,281.13 L1574.18,282.88 L1575.15,284.63 L1576.11,286.38 L1577.06,288.14 L1578,289.9 L1578.94,291.67 L1579.86,293.44 L1580.78,295.22 L1581.7,297 L1582.62,298.77 L1583.53,300.55 L1584.44,302.33 L1585.35,304.12 L1586.25,305.9 L1587.16,307.68 L1588.05,309.47 L1588.95,311.26 L1589.84,313.05 L1590.73,314.84 L1591.62,316.63 L1592.51,318.42 L1593.41,320.21 L1594.3,322 L1595.21,323.78 L1596.12,325.56 L1597.05,327.33 L1598,329.09 L1598.96,330.84 L1599.93,332.59 L1600.92,334.32 L1601.9,336.06 L1602.87,337.81 L1603.81,339.57 L1604.73,341.34 L1605.62,343.12 L1606.47,344.93 L1607.3,346.74 L1608.11,348.57 L1608.9,350.41 L1609.68,352.25 L1610.46,354.09 L1611.23,355.93 L1612,357.78 L1612.76,359.63 L1613.51,361.48 L1614.24,363.34 L1614.96,365.21 L1615.66,367.08 L1616.34,368.96 L1617,370.85 L1617.65,372.74 L1618.28,374.63 L1618.92,376.53 L1619.55,378.42 L1620.2,380.32 L1620.85,382.2 L1621.52,384.07 L1622.24,385.92 L1623.01,387.72 L1623.86,389.45 L1624.82,391.07 L1625.91,392.55 L1627.16,393.85 L1628.57,394.94 L1630.13,395.81 L1631.83,396.47 L1633.63,396.93 L1635.52,397.24 L1637.45,397.44 L1639.42,397.56 L1641.4,397.63 L1643.39,397.66 L1645.39,397.68 L1647.39,397.69 L1649.39,397.7 L1651.39,397.7 L1653.39,397.7 L1655.39,397.7 L1657.39,397.7 L1659.39,397.7 L1661.39,397.7 L1663.39,397.7 L1665.39,397.7 L1667.39,397.7 L1669.39,397.7 L1671.39,397.7 L1673.39,397.7 L1675.39,397.7 L1677.39,397.7 L1679.39,397.7 L1681.39,397.7 L1683.39,397.7 L1685.39,397.7 L1687.39,397.7 L1689.39,397.7 L1691.39,397.7 L1693.39,397.7 L1695.39,397.7 L1697.39,397.7 L1699.39,397.7 L1701.39,397.7 L1703.39,397.7 L1705.39,397.7 L1707.39,397.7 L1709.39,397.7 L1711.39,397.7 L1713.39,397.7 L1715.39,397.7 L1717.39,397.7 L1719.39,397.7 L1721.39,397.7 L1723.39,397.7 L1725.39,397.7 L1727.39,397.7 L1729.39,397.7 L1731.39,397.7 L1733.39,397.7 L1735.39,397.7 L1737.39,397.7 L1739.39,397.7 L1741.38,397.7 L1743.37,397.7 L1745.34,397.7 L1747.29,397.7 L1749.2,397.7 L1751.04,397.7 L1752.8,397.7 L1754.46,397.7 L1755.25,397.7" fill="none" stroke="#AC3C8E" stroke-width="2.4" stroke-linejoin="round"/>
<path d="M990,78.1 L992,78.15 L994,78.19 L996,78.24 L998,78.28 L1000,78.33 L1002,78.37 L1004,78.42 L1006,78.46 L1008,78.51 L1009.99,78.56 L1011.99,78.6 L1013.99,78.65 L1015.99,78.69 L1017.99,78.74 L1019.99,78.78 L1021.99,78.83 L1023.99,78.87 L1025.99,78.92 L1027.99,78.97 L1029.99,79.01 L1031.99,79.06 L1033.99,79.1 L1035.99,79.15 L1037.99,79.19 L1039.99,79.24 L1041.99,79.28 L1043.99,79.33 L1045.99,79.38 L1047.98,79.42 L1049.98,79.47 L1051.98,79.51 L1053.98,79.56 L1055.98,79.6 L1057.98,79.65 L1059.98,79.69 L1061.98,79.74 L1063.98,79.79 L1065.98,79.83 L1067.98,79.88 L1069.98,79.92 L1071.98,79.97 L1073.98,80.01 L1075.98,80.06 L1077.98,80.1 L1079.98,80.15 L1081.98,80.2 L1083.98,80.24 L1085.98,80.29 L1087.97,80.33 L1089.97,80.38 L1091.97,80.42 L1093.97,80.47 L1095.97,80.51 L1097.97,80.56 L1099.97,80.61 L1101.97,80.65 L1103.97,80.7 L1105.97,80.74 L1107.97,80.79 L1109.97,80.83 L1111.97,80.88 L1113.97,80.92 L1115.97,80.97 L1117.97,81.02 L1119.97,81.06 L1121.97,81.11 L1123.97,81.15 L1125.96,81.2 L1127.96,81.24 L1129.96,81.29 L1131.96,81.33 L1133.96,81.38 L1135.96,81.43 L1137.96,81.47 L1139.96,81.52 L1141.96,81.58 L1143.96,81.63 L1145.96,81.7 L1147.96,81.76 L1149.95,81.84 L1151.95,81.92 L1153.95,82.01 L1155.95,82.11 L1157.95,82.2 L1159.94,82.3 L1161.94,82.4 L1163.94,82.5 L1165.94,82.6 L1167.93,82.71 L1169.93,82.81 L1171.93,82.91 L1173.93,83.01 L1175.92,83.11 L1177.92,83.21 L1179.92,83.31 L1181.92,83.41 L1183.91,83.51 L1185.91,83.61 L1187.91,83.71 L1189.91,83.81 L1191.9,83.91 L1193.9,84.01 L1195.9,84.12 L1197.9,84.22 L1199.89,84.32 L1201.89,84.42 L1203.89,84.52 L1205.89,84.62 L1207.88,84.72 L1209.88,84.82 L1211.88,84.92 L1213.88,85.02 L1215.87,85.12 L1217.87,85.22 L1219.87,85.32 L1221.87,85.42 L1223.86,85.53 L1225.86,85.63 L1227.86,85.73 L1229.85,85.83 L1231.85,85.93 L1233.85,86.03 L1235.85,86.13 L1237.84,86.23 L1239.84,86.33 L1241.84,86.43 L1243.84,86.53 L1245.83,86.63 L1247.83,86.73 L1249.83,86.84 L1251.83,86.94 L1253.82,87.04 L1255.82,87.15 L1257.82,87.26 L1259.81,87.38 L1261.81,87.52 L1263.8,87.66 L1265.79,87.83 L1267.78,88.01 L1269.77,88.21 L1271.76,88.43 L1273.75,88.65 L1275.73,88.88 L1277.72,89.11 L1279.71,89.34 L1281.69,89.58 L1283.68,89.81 L1285.67,90.05 L1287.65,90.28 L1289.64,90.52 L1291.62,90.75 L1293.61,90.99 L1295.6,91.22 L1297.58,91.46 L1299.57,91.7 L1301.55,91.93 L1303.54,92.17 L1305.53,92.4 L1307.51,92.64 L1309.5,92.87 L1311.49,93.11 L1313.47,93.34 L1315.46,93.58 L1317.44,93.81 L1319.43,94.05 L1321.42,94.29 L1323.4,94.53 L1325.39,94.77 L1327.37,95.02 L1329.35,95.28 L1331.33,95.55 L1333.32,95.82 L1335.3,96.1 L1337.27,96.39 L1339.25,96.7 L1341.22,97.01 L1343.19,97.35 L1345.16,97.7 L1347.12,98.08 L1349.08,98.48 L1351.03,98.9 L1352.99,99.34 L1354.93,99.78 L1356.88,100.23 L1358.83,100.69 L1360.77,101.16 L1362.72,101.63 L1364.66,102.1 L1366.6,102.58 L1368.54,103.06 L1370.48,103.55 L1372.42,104.05 L1374.36,104.55 L1376.29,105.07 L1378.22,105.59 L1380.14,106.13 L1382.06,106.68 L1383.98,107.25 L1385.9,107.82 L1387.8,108.42 L1389.71,109.03 L1391.6,109.65 L1393.49,110.31 L1395.37,110.98 L1397.24,111.68 L1399.11,112.4 L1400.97,113.13 L1402.83,113.87 L1404.68,114.63 L1406.53,115.39 L1408.37,116.17 L1410.21,116.95 L1412.04,117.75 L1413.87,118.55 L1415.7,119.37 L1417.52,120.19 L1419.34,121.01 L1421.16,121.85 L1422.97,122.69 L1424.78,123.55 L1426.58,124.42 L1428.38,125.29 L1430.17,126.18 L1431.96,127.08 L1433.74,127.98 L1435.52,128.9 L1437.29,129.82 L1439.05,130.76 L1440.81,131.72 L1442.55,132.7 L1444.29,133.69 L1446.01,134.7 L1447.73,135.72 L1449.45,136.75 L1451.15,137.8 L1452.84,138.86 L1454.53,139.93 L1456.2,141.02 L1457.86,142.14 L1459.5,143.28 L1461.12,144.44 L1462.73,145.63 L1464.32,146.83 L1465.9,148.06 L1467.47,149.29 L1469.04,150.54 L1470.6,151.79 L1472.15,153.05 L1473.7,154.31 L1475.24,155.59 L1476.77,156.87 L1478.3,158.16 L1479.81,159.47 L1481.32,160.79 L1482.81,162.12 L1484.29,163.46 L1485.75,164.82 L1487.2,166.19 L1488.64,167.58 L1490.07,168.99 L1491.48,170.4 L1492.88,171.82 L1494.27,173.26 L1495.66,174.7 L1497.03,176.16 L1498.39,177.62 L1499.75,179.09 L1501.09,180.57 L1502.43,182.06 L1503.75,183.55 L1505.07,185.06 L1506.38,186.57 L1507.67,188.09 L1508.97,189.62 L1510.26,191.14 L1511.56,192.67 L1512.86,194.19 L1514.16,195.7 L1515.47,197.22 L1516.78,198.73 L1518.08,200.24 L1519.38,201.77 L1520.66,203.3 L1521.93,204.84 L1523.18,206.4 L1524.41,207.97 L1525.63,209.56 L1526.83,211.16 L1528.02,212.76 L1529.21,214.37 L1530.39,215.99 L1531.56,217.61 L1532.72,219.24 L1533.87,220.87 L1535.02,222.51 L1536.16,224.15 L1537.3,225.79 L1538.43,227.44 L1539.56,229.09 L1540.69,230.74 L1541.81,232.4 L1542.92,234.06 L1544.02,235.73 L1545.1,237.41 L1546.17,239.1 L1547.22,240.8 L1548.26,242.51 L1549.29,244.22 L1550.31,245.94 L1551.33,247.66 L1552.33,249.39 L1553.33,251.12 L1554.32,252.86 L1555.31,254.6 L1556.28,256.35 L1557.24,258.1 L1558.19,259.86 L1559.13,261.62 L1560.07,263.39 L1561.01,265.16 L1561.94,266.93 L1562.87,268.7 L1563.8,270.47 L1564.72,272.24 L1565.64,274.02 L1566.55,275.8 L1567.46,277.58 L1568.37,279.36 L1569.27,281.15 L1570.16,282.94 L1571.06,284.73 L1571.96,286.51 L1572.85,288.3 L1573.74,290.09 L1574.64,291.88 L1575.53,293.67 L1576.42,295.46 L1577.32,297.25 L1578.21,299.04 L1579.1,300.83 L1579.99,302.62 L1580.88,304.41 L1581.78,306.2 L1582.67,307.99 L1583.57,309.78 L1584.47,311.56 L1585.37,313.35 L1586.28,315.13 L1587.2,316.9 L1588.13,318.67 L1589.06,320.44 L1590,322.21 L1590.93,323.98 L1591.87,325.74 L1592.8,327.51 L1593.73,329.28 L1594.66,331.06 L1595.58,332.83 L1596.49,334.61 L1597.39,336.4 L1598.29,338.18 L1599.17,339.98 L1600.03,341.78 L1600.88,343.59 L1601.71,345.41 L1602.52,347.24 L1603.31,349.07 L1604.1,350.91 L1604.87,352.75 L1605.65,354.6 L1606.41,356.44 L1607.18,358.29 L1607.94,360.14 L1608.69,361.99 L1609.44,363.85 L1610.17,365.71 L1610.89,367.58 L1611.59,369.45 L1612.27,371.33 L1612.93,373.21 L1613.59,375.1 L1614.24,376.99 L1614.88,378.89 L1615.52,380.78 L1616.16,382.68 L1616.79,384.57 L1617.43,386.47 L1618.06,388.36 L1618.7,390.26 L1619.33,392.14 L1619.95,394.02 L1620.56,395.87 L1621.15,397.69 L1621.72,399.44 L1622.26,401.1 L1622.75,402.66 L1623.21,404.09" fill="none" stroke="#2E1F7E" stroke-width="2.4" stroke-linejoin="round"/>
<path d="M990,78.1 L992,78.15 L994,78.19 L996,78.24 L998,78.28 L1000,78.33 L1002,78.37 L1004,78.42 L1006,78.46 L1008,78.51 L1009.99,78.56 L1011.99,78.6 L1013.99,78.65 L1015.99,78.69 L1017.99,78.74 L1019.99,78.78 L1021.99,78.83 L1023.99,78.87 L1025.99,78.92 L1027.99,78.97 L1029.99,79.01 L1031.99,79.06 L1033.99,79.1 L1035.99,79.15 L1037.99,79.19 L1039.99,79.24 L1041.99,79.28 L1043.99,79.33 L1045.99,79.38 L1047.98,79.42 L1049.98,79.47 L1051.98,79.51 L1053.98,79.56 L1055.98,79.6 L1057.98,79.65 L1059.98,79.69 L1061.98,79.74 L1063.98,79.79 L1065.98,79.83 L1067.98,79.88 L1069.98,79.92 L1071.98,79.97 L1073.98,80.01 L1075.98,80.06 L1077.98,80.1 L1079.98,80.15 L1081.98,80.2 L1083.98,80.24 L1085.98,80.29 L1087.97,80.33 L1089.97,80.38 L1091.97,80.42 L1093.97,80.47 L1095.97,80.51 L1097.97,80.56 L1099.97,80.61 L1101.97,80.65 L1103.97,80.7 L1105.97,80.74 L1107.97,80.79 L1109.97,80.83 L1111.97,80.88 L1113.97,80.92 L1115.97,80.97 L1117.97,81.02 L1119.97,81.06 L1121.97,81.11 L1123.97,81.15 L1125.96,81.2 L1127.96,81.24 L1129.96,81.29 L1131.96,81.33 L1133.96,81.38 L1135.96,81.43 L1137.96,81.47 L1139.96,81.52 L1141.96,81.58 L1143.96,81.63 L1145.96,81.7 L1147.96,81.76 L1149.95,81.84 L1151.95,81.92 L1153.95,82.01 L1155.95,82.11 L1157.95,82.2 L1159.94,82.3 L1161.94,82.4 L1163.94,82.5 L1165.94,82.6 L1167.93,82.71 L1169.93,82.81 L1171.93,82.91 L1173.93,83.01 L1175.92,83.11 L1177.92,83.21 L1179.92,83.31 L1181.92,83.41 L1183.91,83.51 L1185.91,83.61 L1187.91,83.71 L1189.91,83.81 L1191.9,83.91 L1193.9,84.01 L1195.9,84.12 L1197.9,84.22 L1199.89,84.32 L1201.89,84.42 L1203.89,84.52 L1205.89,84.62 L1207.88,84.72 L1209.88,84.82 L1211.88,84.92 L1213.88,85.02 L1215.87,85.12 L1217.87,85.22 L1219.87,85.32 L1221.87,85.42 L1223.86,85.53 L1225.86,85.63 L1227.86,85.73 L1229.85,85.83 L1231.85,85.93 L1233.85,86.03 L1235.85,86.13 L1237.84,86.23 L1239.84,86.33 L1241.84,86.43 L1243.84,86.53 L1245.83,86.63 L1247.83,86.73 L1249.83,86.84 L1251.83,86.94 L1253.82,87.04 L1255.82,87.15 L1257.82,87.26 L1259.81,87.38 L1261.81,87.51 L1263.8,87.66 L1265.79,87.82 L1267.79,88 L1269.77,88.2 L1271.76,88.41 L1273.75,88.62 L1275.74,88.84 L1277.73,89.07 L1279.71,89.3 L1281.7,89.53 L1283.69,89.76 L1285.67,89.99 L1287.66,90.21 L1289.65,90.44 L1291.63,90.67 L1293.62,90.9 L1295.61,91.13 L1297.59,91.36 L1299.58,91.59 L1301.57,91.82 L1303.55,92.05 L1305.54,92.28 L1307.53,92.51 L1309.51,92.74 L1311.5,92.97 L1313.49,93.2 L1315.48,93.42 L1317.46,93.66 L1319.45,93.89 L1321.43,94.12 L1323.42,94.36 L1325.4,94.6 L1327.39,94.86 L1329.37,95.12 L1331.35,95.39 L1333.33,95.68 L1335.31,95.98 L1337.28,96.28 L1339.26,96.59 L1341.23,96.91 L1343.21,97.23 L1345.18,97.56 L1347.15,97.89 L1349.13,98.22 L1351.1,98.56 L1353.07,98.9 L1355.04,99.26 L1357,99.62 L1358.97,99.99 L1360.93,100.37 L1362.89,100.77 L1364.84,101.18 L1366.8,101.6 L1368.75,102.03 L1370.7,102.47 L1372.66,102.91 L1374.61,103.35 L1376.56,103.79 L1378.51,104.22 L1380.46,104.66 L1382.41,105.1 L1384.36,105.54 L1386.31,105.97 L1388.27,106.41 L1390.21,106.86 L1392.16,107.31 L1394.1,107.78 L1396.04,108.27 L1397.98,108.78 L1399.9,109.3 L1401.83,109.85 L1403.75,110.4 L1405.67,110.97 L1407.58,111.54 L1409.5,112.12 L1411.41,112.7 L1413.33,113.27 L1415.24,113.85 L1417.16,114.42 L1419.07,115 L1420.99,115.56 L1422.91,116.13 L1424.82,116.7 L1426.74,117.28 L1428.65,117.86 L1430.56,118.45 L1432.47,119.05 L1434.37,119.66 L1436.27,120.29 L1438.17,120.93 L1440.06,121.57 L1441.95,122.23 L1443.84,122.89 L1445.72,123.56 L1447.6,124.24 L1449.48,124.93 L1451.35,125.63 L1453.22,126.34 L1455.08,127.06 L1456.94,127.8 L1458.8,128.54 L1460.66,129.29 L1462.51,130.04 L1464.36,130.8 L1466.2,131.58 L1468.04,132.36 L1469.88,133.15 L1471.71,133.95 L1473.54,134.75 L1475.37,135.56 L1477.2,136.38 L1479.02,137.19 L1480.85,138.01 L1482.67,138.83 L1484.49,139.66 L1486.31,140.49 L1488.12,141.34 L1489.93,142.19 L1491.74,143.04 L1493.54,143.91 L1495.34,144.79 L1497.13,145.67 L1498.92,146.57 L1500.7,147.47 L1502.48,148.39 L1504.25,149.32 L1506.02,150.26 L1507.78,151.2 L1509.54,152.15 L1511.3,153.09 L1513.06,154.04 L1514.82,154.99 L1516.59,155.93 L1518.36,156.87 L1520.13,157.79 L1521.9,158.71 L1523.68,159.62 L1525.47,160.53 L1527.25,161.44 L1529.03,162.34 L1530.81,163.26 L1532.58,164.19 L1534.34,165.14 L1536.09,166.1 L1537.83,167.07 L1539.57,168.06 L1541.3,169.06 L1543.03,170.07 L1544.76,171.08 L1546.48,172.09 L1548.2,173.11 L1549.92,174.13 L1551.64,175.15 L1553.36,176.18 L1555.07,177.21 L1556.78,178.25 L1558.48,179.29 L1560.19,180.34 L1561.89,181.39 L1563.59,182.44 L1565.29,183.49 L1566.99,184.55 L1568.69,185.6 L1570.39,186.65 L1572.09,187.71 L1573.79,188.77 L1575.48,189.83 L1577.18,190.89 L1578.87,191.96 L1580.56,193.02 L1582.26,194.09 L1583.95,195.16 L1585.64,196.22 L1587.33,197.29 L1589.02,198.36 L1590.71,199.43 L1592.4,200.51 L1594.08,201.58 L1595.76,202.67 L1597.44,203.76 L1599.1,204.86 L1600.76,205.98 L1602.41,207.1 L1604.06,208.24 L1605.7,209.39 L1607.33,210.54 L1608.96,211.7 L1610.59,212.86 L1612.22,214.02 L1613.85,215.18 L1615.48,216.34 L1617.1,217.5 L1618.73,218.67 L1620.36,219.83 L1621.99,220.99 L1623.62,222.15 L1625.25,223.31 L1626.88,224.47 L1628.51,225.63 L1630.14,226.78 L1631.77,227.94 L1633.4,229.09 L1635.04,230.25 L1636.67,231.4 L1638.3,232.56 L1639.94,233.71 L1641.57,234.87 L1643.2,236.02 L1644.83,237.18 L1646.46,238.34 L1648.09,239.5 L1649.72,240.66 L1651.34,241.83 L1652.97,242.99 L1654.59,244.16 L1656.22,245.32 L1657.84,246.49 L1659.47,247.66 L1661.09,248.82 L1662.72,249.99 L1664.34,251.16 L1665.96,252.33 L1667.59,253.5 L1669.21,254.67 L1670.83,255.84 L1672.44,257.02 L1674.05,258.2 L1675.66,259.4 L1677.26,260.59 L1678.86,261.8 L1680.45,263.01 L1682.04,264.22 L1683.62,265.44 L1685.21,266.66 L1686.79,267.89 L1688.37,269.11 L1689.95,270.33 L1691.53,271.56 L1693.11,272.79 L1694.69,274.01 L1696.27,275.24 L1697.85,276.47 L1699.43,277.7 L1701.01,278.93 L1702.58,280.16 L1704.16,281.39 L1705.73,282.63 L1707.3,283.86 L1708.87,285.1 L1710.44,286.34 L1712.01,287.59 L1713.58,288.82 L1715.15,290.06 L1716.72,291.29 L1718.3,292.52 L1719.88,293.74 L1721.47,294.96 L1723.06,296.18 L1724.65,297.39 L1726.24,298.61 L1727.83,299.82 L1729.42,301.03 L1731,302.25 L1732.59,303.47 L1734.17,304.7 L1735.74,305.93 L1737.32,307.16 L1738.89,308.4 L1740.45,309.64 L1742.02,310.89 L1743.59,312.13 L1745.15,313.36 L1746.71,314.59 L1748.27,315.81 L1749.81,317.01 L1751.32,318.18 L1752.8,319.32 L1754.23,320.43 L1755.6,321.49" fill="none" stroke="#2E1F7E" stroke-width="2.4" stroke-dasharray="23.5 13.65" stroke-linejoin="round" stroke-dashoffset="-0.3"/>
</g>
<rect x="1008.7" y="167.1" width="312.4" height="222.1" fill="#fff" stroke="#5e5e5e" stroke-width="1.4"/>
<path d="M1017.8,184.4 L1086.5,184.4" fill="none" stroke="#000000" stroke-width="2.4" stroke-linejoin="round"/>
<text x="1094.4" y="192.8" class="lg">Condat-Vu</text>
<path d="M1017.8,211.13 L1086.5,211.13" fill="none" stroke="#000000" stroke-width="2.4" stroke-dasharray="23.5 13.65" stroke-linejoin="round"/>
<text x="1094.4" y="219.53" class="lg">accelerated Condat-Vu</text>
<path d="M1017.8,237.86 L1086.5,237.86" fill="none" stroke="#C41D02" stroke-width="2.4" stroke-linejoin="round"/>
<text x="1094.4" y="246.26" class="lg">PDDY</text>
<path d="M1017.8,264.59 L1086.5,264.59" fill="none" stroke="#AC3C8E" stroke-width="2.4" stroke-linejoin="round"/>
<text x="1094.4" y="272.99" class="lg">PDDY xR</text>
<path d="M1017.8,291.32 L1086.5,291.32" fill="none" stroke="#C41D02" stroke-width="2.4" stroke-dasharray="23.5 13.65" stroke-linejoin="round"/>
<text x="1094.4" y="299.72" class="lg">accelerated PDDY</text>
<path d="M1017.8,318.05 L1086.5,318.05" fill="none" stroke="#AC3C8E" stroke-width="2.4" stroke-dasharray="23.5 13.65" stroke-linejoin="round"/>
<text x="1094.4" y="326.45" class="lg">accelerated PDDY xR</text>
<path d="M1017.8,344.78 L1086.5,344.78" fill="none" stroke="#2E1F7E" stroke-width="2.4" stroke-linejoin="round"/>
<text x="1094.4" y="353.18" class="lg">PD3O</text>
<path d="M1017.8,371.51 L1086.5,371.51" fill="none" stroke="#2E1F7E" stroke-width="2.4" stroke-dasharray="23.5 13.65" stroke-linejoin="round"/>
<text x="1094.4" y="379.91" class="lg">accelerated PD3O</text>
<text transform="translate(932.99,61.50) scale(0.93,1)" class="tk">10</text>
<text x="960.00" y="50.10" class="tk sup">10</text>
<text transform="translate(942.29,171.00) scale(0.93,1)" class="tk">10</text>
<text x="969.30" y="159.60" class="tk sup">0</text>
<text transform="translate(924.09,282.00) scale(0.93,1)" class="tk">10</text>
<text x="951.10" y="270.60" class="tk sup">-10</text>
<text transform="translate(924.09,391.50) scale(0.93,1)" class="tk">10</text>
<text x="951.10" y="380.10" class="tk sup">-20</text>
<text transform="translate(970.49,442.80) scale(0.93,1)" class="tk">10</text>
<text x="997.90" y="431.40" class="tk sup">0</text>
<text transform="translate(1161.59,442.80) scale(0.93,1)" class="tk">10</text>
<text x="1189.00" y="431.40" class="tk sup">1</text>
<text transform="translate(1352.69,442.80) scale(0.93,1)" class="tk">10</text>
<text x="1380.10" y="431.40" class="tk sup">2</text>
<text transform="translate(1543.79,442.80) scale(0.93,1)" class="tk">10</text>
<text x="1571.20" y="431.40" class="tk sup">3</text>
<text transform="translate(1734.89,442.80) scale(0.93,1)" class="tk">10</text>
<text x="1762.30" y="431.40" class="tk sup">4</text>
<text transform="translate(220.44,498.40) scale(0.3288,0.3878)" style="font-family:'Liberation Serif',serif;font-style:normal;font-weight:normal;font-size:100px" fill="#111">Ψ</text>
<text transform="translate(247.99,498.62) scale(0.3569,0.4132)" style="font-family:'Liberation Serif',serif;font-style:normal;font-weight:normal;font-size:100px" fill="#111">(</text>
<text transform="translate(262.03,498.40) scale(0.4270,0.4043)" style="font-family:'Liberation Serif',serif;font-style:italic;font-weight:normal;font-size:100px" fill="#111">x</text>
<text transform="translate(281.74,485.40) scale(0.3209,0.2849)" style="font-family:'Liberation Serif',serif;font-style:italic;font-weight:normal;font-size:100px" fill="#111">k</text>
<text transform="translate(300.02,498.73) scale(0.3269,0.4178)" style="font-family:'Liberation Serif',serif;font-style:normal;font-weight:normal;font-size:100px" fill="#111">)</text>
<text transform="translate(322.57,499.46) scale(0.4860,0.3200)" style="font-family:'Liberation Serif',serif;font-style:normal;font-weight:normal;font-size:100px" fill="#111">−</text>
<text transform="translate(361.54,498.40) scale(0.3288,0.3878)" style="font-family:'Liberation Serif',serif;font-style:normal;font-weight:normal;font-size:100px" fill="#111">Ψ</text>
<text transform="translate(389.12,498.62) scale(0.3294,0.4132)" style="font-family:'Liberation Serif',serif;font-style:normal;font-weight:normal;font-size:100px" fill="#111">(</text>
<text transform="translate(403.70,498.40) scale(0.3978,0.4043)" style="font-family:'Liberation Serif',serif;font-style:italic;font-weight:normal;font-size:100px" fill="#111">x</text>
<text transform="translate(418.03,490.48) scale(0.3493,0.3389)" style="font-family:'DejaVu Sans',sans-serif;font-style:normal;font-weight:normal;font-size:100px" fill="#111">⋆</text>
<text transform="translate(439.64,498.73) scale(0.3538,0.4178)" style="font-family:'Liberation Serif',serif;font-style:normal;font-weight:normal;font-size:100px" fill="#111">)</text>
<text transform="translate(464.70,498.30) scale(0.3699,0.3699)" style="font-family:'Liberation Serif',serif;font-style:normal;font-weight:normal;font-size:100px" fill="#111">w.r.t. # iterations</text>
<text transform="translate(1146.92,498.55) scale(0.2844,0.3730)" style="font-family:'DejaVu Sans Mono',monospace;font-style:normal;font-weight:normal;font-size:100px" fill="#111">‖</text>
<text transform="translate(1165.81,499.00) scale(0.4090,0.4043)" style="font-family:'Liberation Serif',serif;font-style:italic;font-weight:normal;font-size:100px" fill="#111">x</text>
<text transform="translate(1185.87,485.70) scale(0.3116,0.2921)" style="font-family:'Liberation Serif',serif;font-style:italic;font-weight:normal;font-size:100px" fill="#111">k</text>
<text transform="translate(1211.73,499.56) scale(0.4946,0.3200)" style="font-family:'Liberation Serif',serif;font-style:normal;font-weight:normal;font-size:100px" fill="#111">−</text>
<text transform="translate(1249.90,499.00) scale(0.3978,0.4043)" style="font-family:'Liberation Serif',serif;font-style:italic;font-weight:normal;font-size:100px" fill="#111">x</text>
<text transform="translate(1265.00,490.57) scale(0.3680,0.3583)" style="font-family:'DejaVu Sans',sans-serif;font-style:normal;font-weight:normal;font-size:100px" fill="#111">⋆</text>
<text transform="translate(1286.32,498.55) scale(0.2844,0.3730)" style="font-family:'DejaVu Sans Mono',monospace;font-style:normal;font-weight:normal;font-size:100px" fill="#111">‖</text>
<text transform="translate(1303.92,485.20) scale(0.3075,0.2848)" style="font-family:'Liberation Serif',serif;font-style:normal;font-weight:normal;font-size:100px" fill="#111">2</text>
<text transform="translate(1331.70,498.30) scale(0.3704,0.3704)" style="font-family:'Liberation Serif',serif;font-style:normal;font-weight:normal;font-size:100px" fill="#111">w.r.t. # iterations</text>
<text transform="translate(-1.21,26.80) scale(0.4030,0.3855)" style="font-family:'Liberation Sans',sans-serif;font-style:normal;font-weight:bold;font-size:100px" fill="#000">A</text>
<text transform="translate(894.26,26.80) scale(0.3754,0.3855)" style="font-family:'Liberation Sans',sans-serif;font-style:normal;font-weight:bold;font-size:100px" fill="#000">B</text>
</svg>
</body></html>
